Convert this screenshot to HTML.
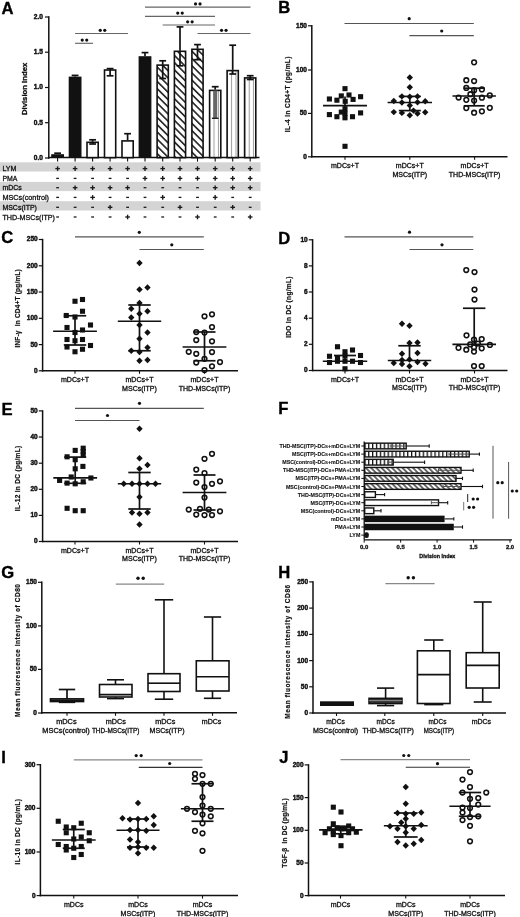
<!DOCTYPE html>
<html><head><meta charset="utf-8"><style>
html,body{margin:0;padding:0;background:#fff;}
svg{display:block;font-family:"Liberation Sans", sans-serif;filter:blur(0.3px);}
text{white-space:pre;}
</style></head><body>
<svg width="520" height="917" viewBox="0 0 520 917">
<defs>
<pattern id="hatch" patternUnits="userSpaceOnUse" width="5.1" height="5.1" patternTransform="rotate(45)">
<rect width="5.1" height="5.1" fill="#fff"/><line x1="0" y1="2.55" x2="5.1" y2="2.55" stroke="#111" stroke-width="1.5"/>
</pattern>
<pattern id="hatchF" patternUnits="userSpaceOnUse" width="3.7" height="3.7" patternTransform="rotate(45)">
<rect width="3.7" height="3.7" fill="#fff"/><line x1="0" y1="1.85" x2="3.7" y2="1.85" stroke="#111" stroke-width="1.2"/>
</pattern>
<pattern id="vstripe" patternUnits="userSpaceOnUse" width="4.4" height="10" x="0.6">
<rect width="4.4" height="10" fill="#fff"/><line x1="2.2" y1="0" x2="2.2" y2="10" stroke="#999" stroke-width="1"/>
</pattern>
<pattern id="checkh" patternUnits="userSpaceOnUse" x="364.2" width="3.9" height="10">
<rect width="3.9" height="10" fill="#fff"/><rect x="0" y="0" width="1.3" height="10" fill="#111"/>
</pattern>
<pattern id="check" patternUnits="userSpaceOnUse" width="4" height="10">
<rect width="4" height="10" fill="#fff"/><line x1="2" y1="0" x2="2" y2="10" stroke="#111" stroke-width="1.1"/>
</pattern>
</defs>
<rect width="520" height="917" fill="#fff"/>
<text x="1.6" y="13.7" font-size="16.6" text-anchor="start" fill="#000" stroke="#000" stroke-width="0.35" font-weight="bold">A</text>
<rect x="0" y="162.3" width="260.5" height="9.2" fill="#d4d4d4"/>
<rect x="0" y="181.9" width="260.5" height="9.2" fill="#d4d4d4"/>
<rect x="0" y="201.2" width="260.5" height="9.3" fill="#d4d4d4"/>
<line x1="48.8" y1="16.3" x2="48.8" y2="158.7" stroke="#111" stroke-width="1.5"/>
<line x1="45" y1="17" x2="48.8" y2="17" stroke="#111" stroke-width="1.2"/>
<text x="43" y="18.9" font-size="6.5" text-anchor="end" fill="#111" stroke="#111" stroke-width="0.42" font-weight="bold" textLength="9.2" lengthAdjust="spacingAndGlyphs">2.0</text>
<line x1="45" y1="52.2" x2="48.8" y2="52.2" stroke="#111" stroke-width="1.2"/>
<text x="43" y="54.1" font-size="6.5" text-anchor="end" fill="#111" stroke="#111" stroke-width="0.42" font-weight="bold" textLength="9.2" lengthAdjust="spacingAndGlyphs">1.5</text>
<line x1="45" y1="87.5" x2="48.8" y2="87.5" stroke="#111" stroke-width="1.2"/>
<text x="43" y="89.4" font-size="6.5" text-anchor="end" fill="#111" stroke="#111" stroke-width="0.42" font-weight="bold" textLength="9.2" lengthAdjust="spacingAndGlyphs">1.0</text>
<line x1="45" y1="122.7" x2="48.8" y2="122.7" stroke="#111" stroke-width="1.2"/>
<text x="43" y="124.6" font-size="6.5" text-anchor="end" fill="#111" stroke="#111" stroke-width="0.42" font-weight="bold" textLength="9.2" lengthAdjust="spacingAndGlyphs">0.5</text>
<line x1="45" y1="158" x2="48.8" y2="158" stroke="#111" stroke-width="1.2"/>
<text x="43" y="159.9" font-size="6.5" text-anchor="end" fill="#111" stroke="#111" stroke-width="0.42" font-weight="bold" textLength="9.2" lengthAdjust="spacingAndGlyphs">0.0</text>
<text x="27" y="88.9" font-size="7.2" text-anchor="middle" fill="#111" stroke="#111" stroke-width="0.3" font-weight="bold" textLength="52.3" lengthAdjust="spacingAndGlyphs" transform="rotate(-90 27 88.9)">Division Index</text>
<line x1="48.1" y1="157.6" x2="259.5" y2="157.6" stroke="#111" stroke-width="1.5"/>
<line x1="57.6" y1="157.6" x2="57.6" y2="161.6" stroke="#111" stroke-width="1.1"/>
<line x1="75.1" y1="157.6" x2="75.1" y2="161.6" stroke="#111" stroke-width="1.1"/>
<line x1="92.6" y1="157.6" x2="92.6" y2="161.6" stroke="#111" stroke-width="1.1"/>
<line x1="110.1" y1="157.6" x2="110.1" y2="161.6" stroke="#111" stroke-width="1.1"/>
<line x1="127.6" y1="157.6" x2="127.6" y2="161.6" stroke="#111" stroke-width="1.1"/>
<line x1="145" y1="157.6" x2="145" y2="161.6" stroke="#111" stroke-width="1.1"/>
<line x1="162.7" y1="157.6" x2="162.7" y2="161.6" stroke="#111" stroke-width="1.1"/>
<line x1="180" y1="157.6" x2="180" y2="161.6" stroke="#111" stroke-width="1.1"/>
<line x1="197.5" y1="157.6" x2="197.5" y2="161.6" stroke="#111" stroke-width="1.1"/>
<line x1="215.2" y1="157.6" x2="215.2" y2="161.6" stroke="#111" stroke-width="1.1"/>
<line x1="232.7" y1="157.6" x2="232.7" y2="161.6" stroke="#111" stroke-width="1.1"/>
<line x1="250.2" y1="157.6" x2="250.2" y2="161.6" stroke="#111" stroke-width="1.1"/>
<line x1="57.6" y1="153.2" x2="57.6" y2="154.2" stroke="#111" stroke-width="1.7"/>
<line x1="54.2" y1="153.2" x2="61" y2="153.2" stroke="#111" stroke-width="1.7"/>
<rect x="51.2" y="154.2" width="12.8" height="3.4" fill="#111"/>
<line x1="75.1" y1="75.4" x2="75.1" y2="76.6" stroke="#111" stroke-width="1.7"/>
<line x1="71.7" y1="75.4" x2="78.5" y2="75.4" stroke="#111" stroke-width="1.7"/>
<rect x="68.7" y="76.6" width="12.8" height="81" fill="#111"/>
<line x1="92.6" y1="139.8" x2="92.6" y2="141.5" stroke="#111" stroke-width="1.7"/>
<line x1="89.2" y1="139.8" x2="96" y2="139.8" stroke="#111" stroke-width="1.7"/>
<rect x="87" y="142.3" width="11.2" height="15.3" fill="#fff" stroke="#111" stroke-width="1.6"/>
<line x1="92.6" y1="141.5" x2="92.6" y2="144" stroke="#111" stroke-width="1.7"/>
<line x1="89.2" y1="144" x2="96" y2="144" stroke="#111" stroke-width="1.7"/>
<line x1="110.1" y1="68.6" x2="110.1" y2="69.2" stroke="#111" stroke-width="1.7"/>
<line x1="106.7" y1="68.6" x2="113.5" y2="68.6" stroke="#111" stroke-width="1.7"/>
<rect x="104.5" y="70" width="11.2" height="87.6" fill="#fff" stroke="#111" stroke-width="1.6"/>
<line x1="110.1" y1="69.2" x2="110.1" y2="75.8" stroke="#111" stroke-width="1.7"/>
<line x1="106.7" y1="75.8" x2="113.5" y2="75.8" stroke="#111" stroke-width="1.7"/>
<line x1="127.6" y1="133.7" x2="127.6" y2="140.1" stroke="#111" stroke-width="1.7"/>
<line x1="124.2" y1="133.7" x2="131" y2="133.7" stroke="#111" stroke-width="1.7"/>
<rect x="122" y="140.9" width="11.2" height="16.7" fill="#fff" stroke="#111" stroke-width="1.6"/>
<line x1="145" y1="52.6" x2="145" y2="56.2" stroke="#111" stroke-width="1.7"/>
<line x1="141.6" y1="52.6" x2="148.4" y2="52.6" stroke="#111" stroke-width="1.7"/>
<rect x="138.6" y="56.2" width="12.8" height="101.4" fill="#111"/>
<line x1="162.7" y1="60.8" x2="162.7" y2="64.3" stroke="#111" stroke-width="1.7"/>
<line x1="159.3" y1="60.8" x2="166.1" y2="60.8" stroke="#111" stroke-width="1.7"/>
<rect x="157.1" y="65.1" width="11.2" height="92.5" fill="url(#hatch)" stroke="#111" stroke-width="1.6"/>
<line x1="162.7" y1="64.3" x2="162.7" y2="78.5" stroke="#111" stroke-width="1.7"/>
<line x1="159.3" y1="78.5" x2="166.1" y2="78.5" stroke="#111" stroke-width="1.7"/>
<line x1="180" y1="26.9" x2="180" y2="50.5" stroke="#111" stroke-width="1.7"/>
<line x1="176.6" y1="26.9" x2="183.4" y2="26.9" stroke="#111" stroke-width="1.7"/>
<rect x="174.4" y="51.3" width="11.2" height="106.3" fill="url(#hatch)" stroke="#111" stroke-width="1.6"/>
<line x1="180" y1="50.5" x2="180" y2="65.8" stroke="#111" stroke-width="1.7"/>
<line x1="176.6" y1="65.8" x2="183.4" y2="65.8" stroke="#111" stroke-width="1.7"/>
<line x1="197.5" y1="44.6" x2="197.5" y2="48.5" stroke="#111" stroke-width="1.7"/>
<line x1="194.1" y1="44.6" x2="200.9" y2="44.6" stroke="#111" stroke-width="1.7"/>
<rect x="191.9" y="49.3" width="11.2" height="108.3" fill="url(#hatch)" stroke="#111" stroke-width="1.6"/>
<line x1="197.5" y1="48.5" x2="197.5" y2="59.7" stroke="#111" stroke-width="1.7"/>
<line x1="194.1" y1="59.7" x2="200.9" y2="59.7" stroke="#111" stroke-width="1.7"/>
<line x1="215.2" y1="86.7" x2="215.2" y2="89.6" stroke="#111" stroke-width="1.7"/>
<line x1="211.8" y1="86.7" x2="218.6" y2="86.7" stroke="#111" stroke-width="1.7"/>
<rect x="209.6" y="90.4" width="11.2" height="67.2" fill="url(#vstripe)" stroke="#111" stroke-width="1.6"/>
<rect x="213.2" y="90.6" width="4" height="27.7" fill="#666"/>
<line x1="211.9" y1="118.3" x2="218.5" y2="118.3" stroke="#222" stroke-width="1.4"/>
<line x1="232.7" y1="45.2" x2="232.7" y2="69.8" stroke="#111" stroke-width="1.7"/>
<line x1="229.3" y1="45.2" x2="236.1" y2="45.2" stroke="#111" stroke-width="1.7"/>
<rect x="227.1" y="70.6" width="11.2" height="87" fill="url(#vstripe)" stroke="#111" stroke-width="1.6"/>
<line x1="232.7" y1="69.8" x2="232.7" y2="74" stroke="#111" stroke-width="1.7"/>
<line x1="229.3" y1="74" x2="236.1" y2="74" stroke="#111" stroke-width="1.7"/>
<line x1="250.2" y1="75.7" x2="250.2" y2="77.1" stroke="#111" stroke-width="1.7"/>
<line x1="246.8" y1="75.7" x2="253.6" y2="75.7" stroke="#111" stroke-width="1.7"/>
<rect x="244.6" y="77.9" width="11.2" height="79.7" fill="url(#vstripe)" stroke="#111" stroke-width="1.6"/>
<line x1="250.2" y1="77.1" x2="250.2" y2="79.5" stroke="#111" stroke-width="1.7"/>
<line x1="246.8" y1="79.5" x2="253.6" y2="79.5" stroke="#111" stroke-width="1.7"/>
<line x1="145" y1="7.1" x2="250.5" y2="7.1" stroke="#666" stroke-width="1.15"/>
<circle cx="195.55" cy="3.9" r="1.6" fill="#111"/>
<circle cx="200.05" cy="3.9" r="1.6" fill="#111"/>
<line x1="145" y1="16.3" x2="215" y2="16.3" stroke="#666" stroke-width="1.15"/>
<circle cx="177.75" cy="13.1" r="1.6" fill="#111"/>
<circle cx="182.25" cy="13.1" r="1.6" fill="#111"/>
<line x1="162.7" y1="25" x2="215" y2="25" stroke="#666" stroke-width="1.15"/>
<circle cx="187.65" cy="21.8" r="1.6" fill="#111"/>
<circle cx="192.15" cy="21.8" r="1.6" fill="#111"/>
<line x1="197.5" y1="33.5" x2="250.5" y2="33.5" stroke="#666" stroke-width="1.15"/>
<circle cx="221.55" cy="30.3" r="1.6" fill="#111"/>
<circle cx="226.05" cy="30.3" r="1.6" fill="#111"/>
<line x1="75.1" y1="33.5" x2="128" y2="33.5" stroke="#666" stroke-width="1.15"/>
<circle cx="100.25" cy="30.3" r="1.6" fill="#111"/>
<circle cx="104.75" cy="30.3" r="1.6" fill="#111"/>
<line x1="75.1" y1="43.3" x2="93" y2="43.3" stroke="#666" stroke-width="1.15"/>
<circle cx="82.25" cy="40.1" r="1.6" fill="#111"/>
<circle cx="86.75" cy="40.1" r="1.6" fill="#111"/>
<text x="2.4" y="171.2" font-size="7" text-anchor="start" fill="#111" stroke="#111" stroke-width="0.28" textLength="14" lengthAdjust="spacingAndGlyphs">LYM</text>
<text x="2.4" y="181" font-size="7" text-anchor="start" fill="#111" stroke="#111" stroke-width="0.28" textLength="15" lengthAdjust="spacingAndGlyphs">PMA</text>
<text x="2.4" y="190.3" font-size="7" text-anchor="start" fill="#111" stroke="#111" stroke-width="0.28" textLength="19.5" lengthAdjust="spacingAndGlyphs">mDCs</text>
<text x="2.4" y="200" font-size="7" text-anchor="start" fill="#111" stroke="#111" stroke-width="0.28" textLength="46.6" lengthAdjust="spacingAndGlyphs">MSCs(control)</text>
<text x="2.4" y="209.9" font-size="7" text-anchor="start" fill="#111" stroke="#111" stroke-width="0.28" textLength="34.5" lengthAdjust="spacingAndGlyphs">MSCs(ITP)</text>
<text x="2.4" y="219.6" font-size="7" text-anchor="start" fill="#111" stroke="#111" stroke-width="0.28" textLength="52.6" lengthAdjust="spacingAndGlyphs">THD-MSCs(ITP)</text>
<line x1="55.3" y1="168.6" x2="59.9" y2="168.6" stroke="#1a1a1a" stroke-width="1.35"/>
<line x1="57.6" y1="166.3" x2="57.6" y2="170.9" stroke="#1a1a1a" stroke-width="1.35"/>
<line x1="72.8" y1="168.6" x2="77.4" y2="168.6" stroke="#1a1a1a" stroke-width="1.35"/>
<line x1="75.1" y1="166.3" x2="75.1" y2="170.9" stroke="#1a1a1a" stroke-width="1.35"/>
<line x1="90.3" y1="168.6" x2="94.9" y2="168.6" stroke="#1a1a1a" stroke-width="1.35"/>
<line x1="92.6" y1="166.3" x2="92.6" y2="170.9" stroke="#1a1a1a" stroke-width="1.35"/>
<line x1="107.8" y1="168.6" x2="112.4" y2="168.6" stroke="#1a1a1a" stroke-width="1.35"/>
<line x1="110.1" y1="166.3" x2="110.1" y2="170.9" stroke="#1a1a1a" stroke-width="1.35"/>
<line x1="125.3" y1="168.6" x2="129.9" y2="168.6" stroke="#1a1a1a" stroke-width="1.35"/>
<line x1="127.6" y1="166.3" x2="127.6" y2="170.9" stroke="#1a1a1a" stroke-width="1.35"/>
<line x1="142.7" y1="168.6" x2="147.3" y2="168.6" stroke="#1a1a1a" stroke-width="1.35"/>
<line x1="145" y1="166.3" x2="145" y2="170.9" stroke="#1a1a1a" stroke-width="1.35"/>
<line x1="160.4" y1="168.6" x2="165" y2="168.6" stroke="#1a1a1a" stroke-width="1.35"/>
<line x1="162.7" y1="166.3" x2="162.7" y2="170.9" stroke="#1a1a1a" stroke-width="1.35"/>
<line x1="177.7" y1="168.6" x2="182.3" y2="168.6" stroke="#1a1a1a" stroke-width="1.35"/>
<line x1="180" y1="166.3" x2="180" y2="170.9" stroke="#1a1a1a" stroke-width="1.35"/>
<line x1="195.2" y1="168.6" x2="199.8" y2="168.6" stroke="#1a1a1a" stroke-width="1.35"/>
<line x1="197.5" y1="166.3" x2="197.5" y2="170.9" stroke="#1a1a1a" stroke-width="1.35"/>
<line x1="212.9" y1="168.6" x2="217.5" y2="168.6" stroke="#1a1a1a" stroke-width="1.35"/>
<line x1="215.2" y1="166.3" x2="215.2" y2="170.9" stroke="#1a1a1a" stroke-width="1.35"/>
<line x1="230.4" y1="168.6" x2="235" y2="168.6" stroke="#1a1a1a" stroke-width="1.35"/>
<line x1="232.7" y1="166.3" x2="232.7" y2="170.9" stroke="#1a1a1a" stroke-width="1.35"/>
<line x1="247.9" y1="168.6" x2="252.5" y2="168.6" stroke="#1a1a1a" stroke-width="1.35"/>
<line x1="250.2" y1="166.3" x2="250.2" y2="170.9" stroke="#1a1a1a" stroke-width="1.35"/>
<line x1="56.2" y1="178.4" x2="59" y2="178.4" stroke="#1a1a1a" stroke-width="1.3"/>
<line x1="73.7" y1="178.4" x2="76.5" y2="178.4" stroke="#1a1a1a" stroke-width="1.3"/>
<line x1="91.2" y1="178.4" x2="94" y2="178.4" stroke="#1a1a1a" stroke-width="1.3"/>
<line x1="108.7" y1="178.4" x2="111.5" y2="178.4" stroke="#1a1a1a" stroke-width="1.3"/>
<line x1="126.2" y1="178.4" x2="129" y2="178.4" stroke="#1a1a1a" stroke-width="1.3"/>
<line x1="142.7" y1="178.4" x2="147.3" y2="178.4" stroke="#1a1a1a" stroke-width="1.35"/>
<line x1="145" y1="176.1" x2="145" y2="180.7" stroke="#1a1a1a" stroke-width="1.35"/>
<line x1="160.4" y1="178.4" x2="165" y2="178.4" stroke="#1a1a1a" stroke-width="1.35"/>
<line x1="162.7" y1="176.1" x2="162.7" y2="180.7" stroke="#1a1a1a" stroke-width="1.35"/>
<line x1="177.7" y1="178.4" x2="182.3" y2="178.4" stroke="#1a1a1a" stroke-width="1.35"/>
<line x1="180" y1="176.1" x2="180" y2="180.7" stroke="#1a1a1a" stroke-width="1.35"/>
<line x1="195.2" y1="178.4" x2="199.8" y2="178.4" stroke="#1a1a1a" stroke-width="1.35"/>
<line x1="197.5" y1="176.1" x2="197.5" y2="180.7" stroke="#1a1a1a" stroke-width="1.35"/>
<line x1="212.9" y1="178.4" x2="217.5" y2="178.4" stroke="#1a1a1a" stroke-width="1.35"/>
<line x1="215.2" y1="176.1" x2="215.2" y2="180.7" stroke="#1a1a1a" stroke-width="1.35"/>
<line x1="230.4" y1="178.4" x2="235" y2="178.4" stroke="#1a1a1a" stroke-width="1.35"/>
<line x1="232.7" y1="176.1" x2="232.7" y2="180.7" stroke="#1a1a1a" stroke-width="1.35"/>
<line x1="247.9" y1="178.4" x2="252.5" y2="178.4" stroke="#1a1a1a" stroke-width="1.35"/>
<line x1="250.2" y1="176.1" x2="250.2" y2="180.7" stroke="#1a1a1a" stroke-width="1.35"/>
<line x1="56.2" y1="187.7" x2="59" y2="187.7" stroke="#1a1a1a" stroke-width="1.3"/>
<line x1="72.8" y1="187.7" x2="77.4" y2="187.7" stroke="#1a1a1a" stroke-width="1.35"/>
<line x1="75.1" y1="185.4" x2="75.1" y2="190" stroke="#1a1a1a" stroke-width="1.35"/>
<line x1="90.3" y1="187.7" x2="94.9" y2="187.7" stroke="#1a1a1a" stroke-width="1.35"/>
<line x1="92.6" y1="185.4" x2="92.6" y2="190" stroke="#1a1a1a" stroke-width="1.35"/>
<line x1="107.8" y1="187.7" x2="112.4" y2="187.7" stroke="#1a1a1a" stroke-width="1.35"/>
<line x1="110.1" y1="185.4" x2="110.1" y2="190" stroke="#1a1a1a" stroke-width="1.35"/>
<line x1="125.3" y1="187.7" x2="129.9" y2="187.7" stroke="#1a1a1a" stroke-width="1.35"/>
<line x1="127.6" y1="185.4" x2="127.6" y2="190" stroke="#1a1a1a" stroke-width="1.35"/>
<line x1="143.6" y1="187.7" x2="146.4" y2="187.7" stroke="#1a1a1a" stroke-width="1.3"/>
<line x1="161.3" y1="187.7" x2="164.1" y2="187.7" stroke="#1a1a1a" stroke-width="1.3"/>
<line x1="178.6" y1="187.7" x2="181.4" y2="187.7" stroke="#1a1a1a" stroke-width="1.3"/>
<line x1="196.1" y1="187.7" x2="198.9" y2="187.7" stroke="#1a1a1a" stroke-width="1.3"/>
<line x1="212.9" y1="187.7" x2="217.5" y2="187.7" stroke="#1a1a1a" stroke-width="1.35"/>
<line x1="215.2" y1="185.4" x2="215.2" y2="190" stroke="#1a1a1a" stroke-width="1.35"/>
<line x1="230.4" y1="187.7" x2="235" y2="187.7" stroke="#1a1a1a" stroke-width="1.35"/>
<line x1="232.7" y1="185.4" x2="232.7" y2="190" stroke="#1a1a1a" stroke-width="1.35"/>
<line x1="247.9" y1="187.7" x2="252.5" y2="187.7" stroke="#1a1a1a" stroke-width="1.35"/>
<line x1="250.2" y1="185.4" x2="250.2" y2="190" stroke="#1a1a1a" stroke-width="1.35"/>
<line x1="56.2" y1="197.4" x2="59" y2="197.4" stroke="#1a1a1a" stroke-width="1.3"/>
<line x1="73.7" y1="197.4" x2="76.5" y2="197.4" stroke="#1a1a1a" stroke-width="1.3"/>
<line x1="90.3" y1="197.4" x2="94.9" y2="197.4" stroke="#1a1a1a" stroke-width="1.35"/>
<line x1="92.6" y1="195.1" x2="92.6" y2="199.7" stroke="#1a1a1a" stroke-width="1.35"/>
<line x1="108.7" y1="197.4" x2="111.5" y2="197.4" stroke="#1a1a1a" stroke-width="1.3"/>
<line x1="126.2" y1="197.4" x2="129" y2="197.4" stroke="#1a1a1a" stroke-width="1.3"/>
<line x1="143.6" y1="197.4" x2="146.4" y2="197.4" stroke="#1a1a1a" stroke-width="1.3"/>
<line x1="160.4" y1="197.4" x2="165" y2="197.4" stroke="#1a1a1a" stroke-width="1.35"/>
<line x1="162.7" y1="195.1" x2="162.7" y2="199.7" stroke="#1a1a1a" stroke-width="1.35"/>
<line x1="178.6" y1="197.4" x2="181.4" y2="197.4" stroke="#1a1a1a" stroke-width="1.3"/>
<line x1="196.1" y1="197.4" x2="198.9" y2="197.4" stroke="#1a1a1a" stroke-width="1.3"/>
<line x1="212.9" y1="197.4" x2="217.5" y2="197.4" stroke="#1a1a1a" stroke-width="1.35"/>
<line x1="215.2" y1="195.1" x2="215.2" y2="199.7" stroke="#1a1a1a" stroke-width="1.35"/>
<line x1="231.3" y1="197.4" x2="234.1" y2="197.4" stroke="#1a1a1a" stroke-width="1.3"/>
<line x1="248.8" y1="197.4" x2="251.6" y2="197.4" stroke="#1a1a1a" stroke-width="1.3"/>
<line x1="56.2" y1="207.3" x2="59" y2="207.3" stroke="#1a1a1a" stroke-width="1.3"/>
<line x1="73.7" y1="207.3" x2="76.5" y2="207.3" stroke="#1a1a1a" stroke-width="1.3"/>
<line x1="91.2" y1="207.3" x2="94" y2="207.3" stroke="#1a1a1a" stroke-width="1.3"/>
<line x1="107.8" y1="207.3" x2="112.4" y2="207.3" stroke="#1a1a1a" stroke-width="1.35"/>
<line x1="110.1" y1="205" x2="110.1" y2="209.6" stroke="#1a1a1a" stroke-width="1.35"/>
<line x1="126.2" y1="207.3" x2="129" y2="207.3" stroke="#1a1a1a" stroke-width="1.3"/>
<line x1="143.6" y1="207.3" x2="146.4" y2="207.3" stroke="#1a1a1a" stroke-width="1.3"/>
<line x1="161.3" y1="207.3" x2="164.1" y2="207.3" stroke="#1a1a1a" stroke-width="1.3"/>
<line x1="177.7" y1="207.3" x2="182.3" y2="207.3" stroke="#1a1a1a" stroke-width="1.35"/>
<line x1="180" y1="205" x2="180" y2="209.6" stroke="#1a1a1a" stroke-width="1.35"/>
<line x1="196.1" y1="207.3" x2="198.9" y2="207.3" stroke="#1a1a1a" stroke-width="1.3"/>
<line x1="213.8" y1="207.3" x2="216.6" y2="207.3" stroke="#1a1a1a" stroke-width="1.3"/>
<line x1="230.4" y1="207.3" x2="235" y2="207.3" stroke="#1a1a1a" stroke-width="1.35"/>
<line x1="232.7" y1="205" x2="232.7" y2="209.6" stroke="#1a1a1a" stroke-width="1.35"/>
<line x1="248.8" y1="207.3" x2="251.6" y2="207.3" stroke="#1a1a1a" stroke-width="1.3"/>
<line x1="56.2" y1="217" x2="59" y2="217" stroke="#1a1a1a" stroke-width="1.3"/>
<line x1="73.7" y1="217" x2="76.5" y2="217" stroke="#1a1a1a" stroke-width="1.3"/>
<line x1="91.2" y1="217" x2="94" y2="217" stroke="#1a1a1a" stroke-width="1.3"/>
<line x1="108.7" y1="217" x2="111.5" y2="217" stroke="#1a1a1a" stroke-width="1.3"/>
<line x1="125.3" y1="217" x2="129.9" y2="217" stroke="#1a1a1a" stroke-width="1.35"/>
<line x1="127.6" y1="214.7" x2="127.6" y2="219.3" stroke="#1a1a1a" stroke-width="1.35"/>
<line x1="143.6" y1="217" x2="146.4" y2="217" stroke="#1a1a1a" stroke-width="1.3"/>
<line x1="161.3" y1="217" x2="164.1" y2="217" stroke="#1a1a1a" stroke-width="1.3"/>
<line x1="178.6" y1="217" x2="181.4" y2="217" stroke="#1a1a1a" stroke-width="1.3"/>
<line x1="195.2" y1="217" x2="199.8" y2="217" stroke="#1a1a1a" stroke-width="1.35"/>
<line x1="197.5" y1="214.7" x2="197.5" y2="219.3" stroke="#1a1a1a" stroke-width="1.35"/>
<line x1="213.8" y1="217" x2="216.6" y2="217" stroke="#1a1a1a" stroke-width="1.3"/>
<line x1="231.3" y1="217" x2="234.1" y2="217" stroke="#1a1a1a" stroke-width="1.3"/>
<line x1="247.9" y1="217" x2="252.5" y2="217" stroke="#1a1a1a" stroke-width="1.35"/>
<line x1="250.2" y1="214.7" x2="250.2" y2="219.3" stroke="#1a1a1a" stroke-width="1.35"/>
<text x="278.2" y="13.1" font-size="16.6" text-anchor="start" fill="#000" stroke="#000" stroke-width="0.35" font-weight="bold">B</text>
<line x1="311.8" y1="25.1" x2="311.8" y2="157.5" stroke="#111" stroke-width="1.5"/>
<line x1="308" y1="25.8" x2="311.8" y2="25.8" stroke="#111" stroke-width="1.2"/>
<text x="306.9" y="27.7" font-size="6.5" text-anchor="end" fill="#111" stroke="#111" stroke-width="0.42" font-weight="bold">150</text>
<line x1="308" y1="70" x2="311.8" y2="70" stroke="#111" stroke-width="1.2"/>
<text x="306.9" y="71.9" font-size="6.5" text-anchor="end" fill="#111" stroke="#111" stroke-width="0.42" font-weight="bold">100</text>
<line x1="308" y1="113.4" x2="311.8" y2="113.4" stroke="#111" stroke-width="1.2"/>
<text x="306.9" y="115.3" font-size="6.5" text-anchor="end" fill="#111" stroke="#111" stroke-width="0.42" font-weight="bold">50</text>
<line x1="308" y1="156.8" x2="311.8" y2="156.8" stroke="#111" stroke-width="1.2"/>
<text x="306.9" y="158.7" font-size="6.5" text-anchor="end" fill="#111" stroke="#111" stroke-width="0.42" font-weight="bold">0</text>
<text x="290.5" y="94.4" font-size="6.5" text-anchor="middle" fill="#111" stroke="#111" stroke-width="0.2" font-weight="bold" textLength="75.6" lengthAdjust="spacing" transform="rotate(-90 290.5 94.4)">IL-4 in CD4+T (pg/mL)</text>
<line x1="311.1" y1="156.8" x2="507.5" y2="156.8" stroke="#111" stroke-width="1.5"/>
<line x1="345" y1="156.8" x2="345" y2="159.8" stroke="#111" stroke-width="1.1"/>
<line x1="409.8" y1="156.8" x2="409.8" y2="159.8" stroke="#111" stroke-width="1.1"/>
<line x1="474.6" y1="156.8" x2="474.6" y2="159.8" stroke="#111" stroke-width="1.1"/>
<text x="345" y="168.1" font-size="6.3" text-anchor="middle" fill="#111" stroke="#111" stroke-width="0.28" textLength="28" lengthAdjust="spacingAndGlyphs">mDCs+T</text>
<text x="409.8" y="168.1" font-size="6.3" text-anchor="middle" fill="#111" stroke="#111" stroke-width="0.28" textLength="28" lengthAdjust="spacingAndGlyphs">mDCs+T</text>
<text x="409.8" y="176.7" font-size="6.3" text-anchor="middle" fill="#111" stroke="#111" stroke-width="0.28" textLength="34.85" lengthAdjust="spacingAndGlyphs">MSCs(ITP)</text>
<text x="474.6" y="168.1" font-size="6.3" text-anchor="middle" fill="#111" stroke="#111" stroke-width="0.28" textLength="28" lengthAdjust="spacingAndGlyphs">mDCs+T</text>
<text x="474.6" y="176.7" font-size="6.3" text-anchor="middle" fill="#111" stroke="#111" stroke-width="0.28" textLength="51.69" lengthAdjust="spacingAndGlyphs">THD-MSCs(ITP)</text>
<line x1="344.5" y1="23.5" x2="473.8" y2="23.5" stroke="#555" stroke-width="1.15"/>
<circle cx="409.2" cy="18.65" r="1.6" fill="#111"/>
<line x1="409.4" y1="35.6" x2="473.8" y2="35.6" stroke="#555" stroke-width="1.15"/>
<circle cx="441.7" cy="31" r="1.6" fill="#111"/>
<rect x="342.45" y="86.1" width="5.1" height="5.1" fill="#111"/>
<rect x="326.85" y="96.45" width="5.1" height="5.1" fill="#111"/>
<rect x="334.35" y="97.65" width="5.1" height="5.1" fill="#111"/>
<rect x="338.75" y="93.35" width="5.1" height="5.1" fill="#111"/>
<rect x="346.45" y="92.45" width="5.1" height="5.1" fill="#111"/>
<rect x="342.65" y="98.75" width="5.1" height="5.1" fill="#111"/>
<rect x="350.55" y="96.85" width="5.1" height="5.1" fill="#111"/>
<rect x="358.05" y="94.15" width="5.1" height="5.1" fill="#111"/>
<rect x="342.45" y="106.25" width="5.1" height="5.1" fill="#111"/>
<rect x="326.85" y="112.05" width="5.1" height="5.1" fill="#111"/>
<rect x="338.75" y="109.55" width="5.1" height="5.1" fill="#111"/>
<rect x="334.35" y="114.15" width="5.1" height="5.1" fill="#111"/>
<rect x="342.45" y="115.25" width="5.1" height="5.1" fill="#111"/>
<rect x="349.95" y="114.15" width="5.1" height="5.1" fill="#111"/>
<rect x="358.05" y="110.35" width="5.1" height="5.1" fill="#111"/>
<rect x="342.45" y="110.95" width="5.1" height="5.1" fill="#111"/>
<rect x="342.45" y="143.75" width="5.1" height="5.1" fill="#111"/>
<line x1="323" y1="105.6" x2="367" y2="105.6" stroke="#111" stroke-width="1.7"/>
<line x1="345" y1="96.5" x2="345" y2="114.5" stroke="#111" stroke-width="1.7"/>
<polygon points="409.8,74.3 413,77.5 409.8,80.7 406.6,77.5" fill="#111"/>
<polygon points="409.8,84.1 413,87.3 409.8,90.5 406.6,87.3" fill="#111"/>
<polygon points="401.9,93.2 405.1,96.4 401.9,99.6 398.7,96.4" fill="#111"/>
<polygon points="409.8,93.5 413,96.7 409.8,99.9 406.6,96.7" fill="#111"/>
<polygon points="417.5,93.2 420.7,96.4 417.5,99.6 414.3,96.4" fill="#111"/>
<polygon points="393.8,97.8 397,101 393.8,104.2 390.6,101" fill="#111"/>
<polygon points="401.9,99.3 405.1,102.5 401.9,105.7 398.7,102.5" fill="#111"/>
<polygon points="417.5,99 420.7,102.2 417.5,105.4 414.3,102.2" fill="#111"/>
<polygon points="425.2,98.1 428.4,101.3 425.2,104.5 422,101.3" fill="#111"/>
<polygon points="409.8,102.2 413,105.4 409.8,108.6 406.6,105.4" fill="#111"/>
<polygon points="393.8,108.9 397,112.1 393.8,115.3 390.6,112.1" fill="#111"/>
<polygon points="401.9,109.7 405.1,112.9 401.9,116.1 398.7,112.9" fill="#111"/>
<polygon points="409.8,112 413,115.2 409.8,118.4 406.6,115.2" fill="#111"/>
<polygon points="413.5,107.4 416.7,110.6 413.5,113.8 410.3,110.6" fill="#111"/>
<polygon points="417.5,110.3 420.7,113.5 417.5,116.7 414.3,113.5" fill="#111"/>
<polygon points="425.2,109.1 428.4,112.3 425.2,115.5 422,112.3" fill="#111"/>
<line x1="387.6" y1="102.5" x2="432" y2="102.5" stroke="#111" stroke-width="1.7"/>
<line x1="409.8" y1="96.4" x2="409.8" y2="110.6" stroke="#111" stroke-width="1.7"/>
<line x1="398.8" y1="96.4" x2="420.8" y2="96.4" stroke="#111" stroke-width="1.7"/>
<line x1="398.8" y1="110.6" x2="420.8" y2="110.6" stroke="#111" stroke-width="1.7"/>
<circle cx="474.1" cy="62.3" r="2.35" fill="none" stroke="#111" stroke-width="1.55"/>
<circle cx="466.3" cy="80.2" r="2.35" fill="none" stroke="#111" stroke-width="1.55"/>
<circle cx="474.1" cy="81" r="2.35" fill="none" stroke="#111" stroke-width="1.55"/>
<circle cx="466.3" cy="87.9" r="2.35" fill="none" stroke="#111" stroke-width="1.55"/>
<circle cx="474.1" cy="90.2" r="2.35" fill="none" stroke="#111" stroke-width="1.55"/>
<circle cx="481.9" cy="89.4" r="2.35" fill="none" stroke="#111" stroke-width="1.55"/>
<circle cx="470.4" cy="94.2" r="2.35" fill="none" stroke="#111" stroke-width="1.55"/>
<circle cx="458.6" cy="97.5" r="2.35" fill="none" stroke="#111" stroke-width="1.55"/>
<circle cx="466.3" cy="99.8" r="2.35" fill="none" stroke="#111" stroke-width="1.55"/>
<circle cx="474.1" cy="100.6" r="2.35" fill="none" stroke="#111" stroke-width="1.55"/>
<circle cx="481.9" cy="97.7" r="2.35" fill="none" stroke="#111" stroke-width="1.55"/>
<circle cx="489.8" cy="95.4" r="2.35" fill="none" stroke="#111" stroke-width="1.55"/>
<circle cx="466.3" cy="108.1" r="2.35" fill="none" stroke="#111" stroke-width="1.55"/>
<circle cx="474.1" cy="112.7" r="2.35" fill="none" stroke="#111" stroke-width="1.55"/>
<circle cx="481.9" cy="111.3" r="2.35" fill="none" stroke="#111" stroke-width="1.55"/>
<circle cx="489.8" cy="107.8" r="2.35" fill="none" stroke="#111" stroke-width="1.55"/>
<line x1="452.5" y1="96" x2="495.9" y2="96" stroke="#111" stroke-width="1.7"/>
<line x1="474.2" y1="88.2" x2="474.2" y2="105.8" stroke="#111" stroke-width="1.7"/>
<line x1="463.7" y1="88.2" x2="484.7" y2="88.2" stroke="#111" stroke-width="1.7"/>
<line x1="463.7" y1="105.8" x2="484.7" y2="105.8" stroke="#111" stroke-width="1.7"/>
<text x="1.2" y="243.4" font-size="16.6" text-anchor="start" fill="#000" stroke="#000" stroke-width="0.35" font-weight="bold">C</text>
<line x1="42.6" y1="238.8" x2="42.6" y2="371.5" stroke="#111" stroke-width="1.5"/>
<line x1="38.8" y1="239.5" x2="42.6" y2="239.5" stroke="#111" stroke-width="1.2"/>
<text x="37.7" y="241.4" font-size="6.5" text-anchor="end" fill="#111" stroke="#111" stroke-width="0.42" font-weight="bold">250</text>
<line x1="38.8" y1="265.8" x2="42.6" y2="265.8" stroke="#111" stroke-width="1.2"/>
<text x="37.7" y="267.7" font-size="6.5" text-anchor="end" fill="#111" stroke="#111" stroke-width="0.42" font-weight="bold">200</text>
<line x1="38.8" y1="292" x2="42.6" y2="292" stroke="#111" stroke-width="1.2"/>
<text x="37.7" y="293.9" font-size="6.5" text-anchor="end" fill="#111" stroke="#111" stroke-width="0.42" font-weight="bold">150</text>
<line x1="38.8" y1="318.3" x2="42.6" y2="318.3" stroke="#111" stroke-width="1.2"/>
<text x="37.7" y="320.2" font-size="6.5" text-anchor="end" fill="#111" stroke="#111" stroke-width="0.42" font-weight="bold">100</text>
<line x1="38.8" y1="344.6" x2="42.6" y2="344.6" stroke="#111" stroke-width="1.2"/>
<text x="37.7" y="346.5" font-size="6.5" text-anchor="end" fill="#111" stroke="#111" stroke-width="0.42" font-weight="bold">50</text>
<line x1="38.8" y1="370.8" x2="42.6" y2="370.8" stroke="#111" stroke-width="1.2"/>
<text x="37.7" y="372.7" font-size="6.5" text-anchor="end" fill="#111" stroke="#111" stroke-width="0.42" font-weight="bold">0</text>
<text x="20.1" y="308.4" font-size="6.5" text-anchor="middle" fill="#111" stroke="#111" stroke-width="0.2" font-weight="bold" textLength="78.4" lengthAdjust="spacing" transform="rotate(-90 20.1 308.4)">INF-γ  in CD4+T (pg/mL)</text>
<line x1="41.9" y1="370.8" x2="238" y2="370.8" stroke="#111" stroke-width="1.5"/>
<line x1="75" y1="370.8" x2="75" y2="373.8" stroke="#111" stroke-width="1.1"/>
<line x1="139.5" y1="370.8" x2="139.5" y2="373.8" stroke="#111" stroke-width="1.1"/>
<line x1="204.5" y1="370.8" x2="204.5" y2="373.8" stroke="#111" stroke-width="1.1"/>
<text x="75" y="382.1" font-size="6.3" text-anchor="middle" fill="#111" stroke="#111" stroke-width="0.28" textLength="28" lengthAdjust="spacingAndGlyphs">mDCs+T</text>
<text x="139.5" y="382.1" font-size="6.3" text-anchor="middle" fill="#111" stroke="#111" stroke-width="0.28" textLength="28" lengthAdjust="spacingAndGlyphs">mDCs+T</text>
<text x="139.5" y="390.7" font-size="6.3" text-anchor="middle" fill="#111" stroke="#111" stroke-width="0.28" textLength="34.85" lengthAdjust="spacingAndGlyphs">MSCs(ITP)</text>
<text x="204.5" y="382.1" font-size="6.3" text-anchor="middle" fill="#111" stroke="#111" stroke-width="0.28" textLength="28" lengthAdjust="spacingAndGlyphs">mDCs+T</text>
<text x="204.5" y="390.7" font-size="6.3" text-anchor="middle" fill="#111" stroke="#111" stroke-width="0.28" textLength="51.69" lengthAdjust="spacingAndGlyphs">THD-MSCs(ITP)</text>
<line x1="75" y1="236.9" x2="203.8" y2="236.9" stroke="#555" stroke-width="1.15"/>
<circle cx="139.3" cy="232.3" r="1.6" fill="#111"/>
<line x1="139.5" y1="249.5" x2="203.8" y2="249.5" stroke="#555" stroke-width="1.15"/>
<circle cx="171.8" cy="244.8" r="1.6" fill="#111"/>
<rect x="72.45" y="298.7" width="5.1" height="5.1" fill="#111"/>
<rect x="79.95" y="296.95" width="5.1" height="5.1" fill="#111"/>
<rect x="63.7" y="312.95" width="5.1" height="5.1" fill="#111"/>
<rect x="72.45" y="314.45" width="5.1" height="5.1" fill="#111"/>
<rect x="79.95" y="308.7" width="5.1" height="5.1" fill="#111"/>
<rect x="64.45" y="324.95" width="5.1" height="5.1" fill="#111"/>
<rect x="79.95" y="327.45" width="5.1" height="5.1" fill="#111"/>
<rect x="87.95" y="322.45" width="5.1" height="5.1" fill="#111"/>
<rect x="72.45" y="329.95" width="5.1" height="5.1" fill="#111"/>
<rect x="64.45" y="336.95" width="5.1" height="5.1" fill="#111"/>
<rect x="72.45" y="338.2" width="5.1" height="5.1" fill="#111"/>
<rect x="79.95" y="336.95" width="5.1" height="5.1" fill="#111"/>
<rect x="64.45" y="344.45" width="5.1" height="5.1" fill="#111"/>
<rect x="87.95" y="342.95" width="5.1" height="5.1" fill="#111"/>
<rect x="72.45" y="349.2" width="5.1" height="5.1" fill="#111"/>
<rect x="79.95" y="346.7" width="5.1" height="5.1" fill="#111"/>
<line x1="53.1" y1="331.25" x2="96.9" y2="331.25" stroke="#111" stroke-width="1.7"/>
<line x1="75" y1="315.75" x2="75" y2="345" stroke="#111" stroke-width="1.7"/>
<line x1="63.8" y1="315.75" x2="86.2" y2="315.75" stroke="#111" stroke-width="1.7"/>
<line x1="63.8" y1="345" x2="86.2" y2="345" stroke="#111" stroke-width="1.7"/>
<polygon points="139.5,259.8 142.7,263 139.5,266.2 136.3,263" fill="#111"/>
<polygon points="139.5,286.3 142.7,289.5 139.5,292.7 136.3,289.5" fill="#111"/>
<polygon points="147.5,284.3 150.7,287.5 147.5,290.7 144.3,287.5" fill="#111"/>
<polygon points="139.5,299.8 142.7,303 139.5,306.2 136.3,303" fill="#111"/>
<polygon points="131.25,305.55 134.45,308.75 131.25,311.95 128.05,308.75" fill="#111"/>
<polygon points="147.5,308.05 150.7,311.25 147.5,314.45 144.3,311.25" fill="#111"/>
<polygon points="131.25,314.3 134.45,317.5 131.25,320.7 128.05,317.5" fill="#111"/>
<polygon points="139.5,310.55 142.7,313.75 139.5,316.95 136.3,313.75" fill="#111"/>
<polygon points="139.5,321.8 142.7,325 139.5,328.2 136.3,325" fill="#111"/>
<polygon points="147.5,329.3 150.7,332.5 147.5,335.7 144.3,332.5" fill="#111"/>
<polygon points="139.5,335.55 142.7,338.75 139.5,341.95 136.3,338.75" fill="#111"/>
<polygon points="147.5,344.3 150.7,347.5 147.5,350.7 144.3,347.5" fill="#111"/>
<polygon points="131.25,347.55 134.45,350.75 131.25,353.95 128.05,350.75" fill="#111"/>
<polygon points="139.5,348.8 142.7,352 139.5,355.2 136.3,352" fill="#111"/>
<polygon points="139.5,357.55 142.7,360.75 139.5,363.95 136.3,360.75" fill="#111"/>
<polygon points="147.5,356.8 150.7,360 147.5,363.2 144.3,360" fill="#111"/>
<line x1="117.8" y1="321.25" x2="161.2" y2="321.25" stroke="#111" stroke-width="1.7"/>
<line x1="139.5" y1="305" x2="139.5" y2="350.75" stroke="#111" stroke-width="1.7"/>
<line x1="128.3" y1="305" x2="150.7" y2="305" stroke="#111" stroke-width="1.7"/>
<line x1="128.3" y1="350.75" x2="150.7" y2="350.75" stroke="#111" stroke-width="1.7"/>
<circle cx="204.5" cy="316.25" r="2.35" fill="none" stroke="#111" stroke-width="1.55"/>
<circle cx="212" cy="314.25" r="2.35" fill="none" stroke="#111" stroke-width="1.55"/>
<circle cx="212" cy="327" r="2.35" fill="none" stroke="#111" stroke-width="1.55"/>
<circle cx="196.25" cy="332" r="2.35" fill="none" stroke="#111" stroke-width="1.55"/>
<circle cx="204.5" cy="332.5" r="2.35" fill="none" stroke="#111" stroke-width="1.55"/>
<circle cx="196.25" cy="340" r="2.35" fill="none" stroke="#111" stroke-width="1.55"/>
<circle cx="212" cy="341.25" r="2.35" fill="none" stroke="#111" stroke-width="1.55"/>
<circle cx="188.75" cy="351.75" r="2.35" fill="none" stroke="#111" stroke-width="1.55"/>
<circle cx="196.25" cy="353.75" r="2.35" fill="none" stroke="#111" stroke-width="1.55"/>
<circle cx="212" cy="352" r="2.35" fill="none" stroke="#111" stroke-width="1.55"/>
<circle cx="204.5" cy="358.75" r="2.35" fill="none" stroke="#111" stroke-width="1.55"/>
<circle cx="196.25" cy="362.5" r="2.35" fill="none" stroke="#111" stroke-width="1.55"/>
<circle cx="212" cy="366.25" r="2.35" fill="none" stroke="#111" stroke-width="1.55"/>
<circle cx="220" cy="362" r="2.35" fill="none" stroke="#111" stroke-width="1.55"/>
<circle cx="204.5" cy="370" r="2.35" fill="none" stroke="#111" stroke-width="1.55"/>
<line x1="182.6" y1="347" x2="226.4" y2="347" stroke="#111" stroke-width="1.7"/>
<line x1="204.5" y1="332" x2="204.5" y2="360.75" stroke="#111" stroke-width="1.7"/>
<line x1="193.5" y1="332" x2="215.5" y2="332" stroke="#111" stroke-width="1.7"/>
<line x1="193.5" y1="360.75" x2="215.5" y2="360.75" stroke="#111" stroke-width="1.7"/>
<text x="278.2" y="243.6" font-size="16.6" text-anchor="start" fill="#000" stroke="#000" stroke-width="0.35" font-weight="bold">D</text>
<line x1="312.6" y1="239.1" x2="312.6" y2="371.2" stroke="#111" stroke-width="1.5"/>
<line x1="308.8" y1="239.8" x2="312.6" y2="239.8" stroke="#111" stroke-width="1.2"/>
<text x="307.7" y="241.7" font-size="6.5" text-anchor="end" fill="#111" stroke="#111" stroke-width="0.42" font-weight="bold">10</text>
<line x1="308.8" y1="265.9" x2="312.6" y2="265.9" stroke="#111" stroke-width="1.2"/>
<text x="307.7" y="267.8" font-size="6.5" text-anchor="end" fill="#111" stroke="#111" stroke-width="0.42" font-weight="bold">8</text>
<line x1="308.8" y1="292" x2="312.6" y2="292" stroke="#111" stroke-width="1.2"/>
<text x="307.7" y="293.9" font-size="6.5" text-anchor="end" fill="#111" stroke="#111" stroke-width="0.42" font-weight="bold">6</text>
<line x1="308.8" y1="318.2" x2="312.6" y2="318.2" stroke="#111" stroke-width="1.2"/>
<text x="307.7" y="320.1" font-size="6.5" text-anchor="end" fill="#111" stroke="#111" stroke-width="0.42" font-weight="bold">4</text>
<line x1="308.8" y1="344.3" x2="312.6" y2="344.3" stroke="#111" stroke-width="1.2"/>
<text x="307.7" y="346.2" font-size="6.5" text-anchor="end" fill="#111" stroke="#111" stroke-width="0.42" font-weight="bold">2</text>
<line x1="308.8" y1="370.5" x2="312.6" y2="370.5" stroke="#111" stroke-width="1.2"/>
<text x="307.7" y="372.4" font-size="6.5" text-anchor="end" fill="#111" stroke="#111" stroke-width="0.42" font-weight="bold">0</text>
<text x="290.7" y="307.2" font-size="6.5" text-anchor="middle" fill="#111" stroke="#111" stroke-width="0.2" font-weight="bold" textLength="61.3" lengthAdjust="spacing" transform="rotate(-90 290.7 307.2)">IDO in DC (ng/mL)</text>
<line x1="311.9" y1="370.5" x2="507.5" y2="370.5" stroke="#111" stroke-width="1.5"/>
<line x1="345" y1="370.5" x2="345" y2="373.5" stroke="#111" stroke-width="1.1"/>
<line x1="409.5" y1="370.5" x2="409.5" y2="373.5" stroke="#111" stroke-width="1.1"/>
<line x1="474.5" y1="370.5" x2="474.5" y2="373.5" stroke="#111" stroke-width="1.1"/>
<text x="345" y="381.8" font-size="6.3" text-anchor="middle" fill="#111" stroke="#111" stroke-width="0.28" textLength="28" lengthAdjust="spacingAndGlyphs">mDCs+T</text>
<text x="409.5" y="381.8" font-size="6.3" text-anchor="middle" fill="#111" stroke="#111" stroke-width="0.28" textLength="28" lengthAdjust="spacingAndGlyphs">mDCs+T</text>
<text x="409.5" y="390.4" font-size="6.3" text-anchor="middle" fill="#111" stroke="#111" stroke-width="0.28" textLength="34.85" lengthAdjust="spacingAndGlyphs">MSCs(ITP)</text>
<text x="474.5" y="381.8" font-size="6.3" text-anchor="middle" fill="#111" stroke="#111" stroke-width="0.28" textLength="28" lengthAdjust="spacingAndGlyphs">mDCs+T</text>
<text x="474.5" y="390.4" font-size="6.3" text-anchor="middle" fill="#111" stroke="#111" stroke-width="0.28" textLength="51.69" lengthAdjust="spacingAndGlyphs">THD-MSCs(ITP)</text>
<line x1="344.5" y1="236.8" x2="473.3" y2="236.8" stroke="#555" stroke-width="1.15"/>
<circle cx="409.5" cy="232.2" r="1.6" fill="#111"/>
<line x1="409.5" y1="249.5" x2="473.3" y2="249.5" stroke="#555" stroke-width="1.15"/>
<circle cx="442" cy="244.8" r="1.6" fill="#111"/>
<rect x="334.95" y="344.2" width="5.1" height="5.1" fill="#111"/>
<rect x="342.45" y="349.2" width="5.1" height="5.1" fill="#111"/>
<rect x="349.95" y="347.45" width="5.1" height="5.1" fill="#111"/>
<rect x="326.95" y="353.7" width="5.1" height="5.1" fill="#111"/>
<rect x="357.95" y="352.95" width="5.1" height="5.1" fill="#111"/>
<rect x="326.95" y="359.95" width="5.1" height="5.1" fill="#111"/>
<rect x="334.95" y="358.7" width="5.1" height="5.1" fill="#111"/>
<rect x="342.45" y="358.7" width="5.1" height="5.1" fill="#111"/>
<rect x="349.95" y="358.7" width="5.1" height="5.1" fill="#111"/>
<rect x="357.95" y="359.95" width="5.1" height="5.1" fill="#111"/>
<rect x="342.45" y="366.2" width="5.1" height="5.1" fill="#111"/>
<rect x="334.95" y="355.45" width="5.1" height="5.1" fill="#111"/>
<rect x="342.45" y="353.45" width="5.1" height="5.1" fill="#111"/>
<line x1="322.8" y1="361.25" x2="367.2" y2="361.25" stroke="#111" stroke-width="1.7"/>
<line x1="345" y1="355.5" x2="345" y2="361.25" stroke="#111" stroke-width="1.7"/>
<line x1="334" y1="355.5" x2="356" y2="355.5" stroke="#111" stroke-width="1.7"/>
<polygon points="402,320.55 405.2,323.75 402,326.95 398.8,323.75" fill="#111"/>
<polygon points="409.5,322.55 412.7,325.75 409.5,328.95 406.3,325.75" fill="#111"/>
<polygon points="417.5,339.3 420.7,342.5 417.5,345.7 414.3,342.5" fill="#111"/>
<polygon points="409.5,339.8 412.7,343 409.5,346.2 406.3,343" fill="#111"/>
<polygon points="402,350.55 405.2,353.75 402,356.95 398.8,353.75" fill="#111"/>
<polygon points="417.5,349.8 420.7,353 417.5,356.2 414.3,353" fill="#111"/>
<polygon points="393.75,359.8 396.95,363 393.75,366.2 390.55,363" fill="#111"/>
<polygon points="402,356.8 405.2,360 402,363.2 398.8,360" fill="#111"/>
<polygon points="409.5,356.3 412.7,359.5 409.5,362.7 406.3,359.5" fill="#111"/>
<polygon points="417.5,358.8 420.7,362 417.5,365.2 414.3,362" fill="#111"/>
<polygon points="425.5,360.55 428.7,363.75 425.5,366.95 422.3,363.75" fill="#111"/>
<polygon points="409.5,363.05 412.7,366.25 409.5,369.45 406.3,366.25" fill="#111"/>
<polygon points="402,360.8 405.2,364 402,367.2 398.8,364" fill="#111"/>
<line x1="387.8" y1="360.5" x2="431.2" y2="360.5" stroke="#111" stroke-width="1.7"/>
<line x1="409.5" y1="345.75" x2="409.5" y2="360.5" stroke="#111" stroke-width="1.7"/>
<line x1="398.3" y1="345.75" x2="420.7" y2="345.75" stroke="#111" stroke-width="1.7"/>
<circle cx="466.25" cy="270" r="2.35" fill="none" stroke="#111" stroke-width="1.55"/>
<circle cx="474.5" cy="272" r="2.35" fill="none" stroke="#111" stroke-width="1.55"/>
<circle cx="474.5" cy="289.5" r="2.35" fill="none" stroke="#111" stroke-width="1.55"/>
<circle cx="474.5" cy="299.5" r="2.35" fill="none" stroke="#111" stroke-width="1.55"/>
<circle cx="466.5" cy="335.3" r="2.35" fill="none" stroke="#111" stroke-width="1.55"/>
<circle cx="474" cy="339.6" r="2.35" fill="none" stroke="#111" stroke-width="1.55"/>
<circle cx="481.7" cy="339.1" r="2.35" fill="none" stroke="#111" stroke-width="1.55"/>
<circle cx="470.2" cy="344.4" r="2.35" fill="none" stroke="#111" stroke-width="1.55"/>
<circle cx="477.9" cy="343.5" r="2.35" fill="none" stroke="#111" stroke-width="1.55"/>
<circle cx="458.5" cy="347.8" r="2.35" fill="none" stroke="#111" stroke-width="1.55"/>
<circle cx="466.3" cy="349.7" r="2.35" fill="none" stroke="#111" stroke-width="1.55"/>
<circle cx="474" cy="347.3" r="2.35" fill="none" stroke="#111" stroke-width="1.55"/>
<circle cx="481.7" cy="348.3" r="2.35" fill="none" stroke="#111" stroke-width="1.55"/>
<circle cx="489.9" cy="344.9" r="2.35" fill="none" stroke="#111" stroke-width="1.55"/>
<circle cx="474" cy="351.6" r="2.35" fill="none" stroke="#111" stroke-width="1.55"/>
<circle cx="474" cy="366" r="2.35" fill="none" stroke="#111" stroke-width="1.55"/>
<circle cx="481.7" cy="366" r="2.35" fill="none" stroke="#111" stroke-width="1.55"/>
<line x1="452.4" y1="344.4" x2="496" y2="344.4" stroke="#111" stroke-width="1.7"/>
<line x1="474.2" y1="308.25" x2="474.2" y2="344.4" stroke="#111" stroke-width="1.7"/>
<line x1="463" y1="308.25" x2="485.4" y2="308.25" stroke="#111" stroke-width="1.7"/>
<text x="1.6" y="415.1" font-size="16.6" text-anchor="start" fill="#000" stroke="#000" stroke-width="0.35" font-weight="bold">E</text>
<line x1="42.6" y1="410.2" x2="42.6" y2="542.2" stroke="#111" stroke-width="1.5"/>
<line x1="38.8" y1="410.9" x2="42.6" y2="410.9" stroke="#111" stroke-width="1.2"/>
<text x="37.7" y="412.8" font-size="6.5" text-anchor="end" fill="#111" stroke="#111" stroke-width="0.42" font-weight="bold">50</text>
<line x1="38.8" y1="437" x2="42.6" y2="437" stroke="#111" stroke-width="1.2"/>
<text x="37.7" y="438.9" font-size="6.5" text-anchor="end" fill="#111" stroke="#111" stroke-width="0.42" font-weight="bold">40</text>
<line x1="38.8" y1="463.2" x2="42.6" y2="463.2" stroke="#111" stroke-width="1.2"/>
<text x="37.7" y="465.1" font-size="6.5" text-anchor="end" fill="#111" stroke="#111" stroke-width="0.42" font-weight="bold">30</text>
<line x1="38.8" y1="489.3" x2="42.6" y2="489.3" stroke="#111" stroke-width="1.2"/>
<text x="37.7" y="491.2" font-size="6.5" text-anchor="end" fill="#111" stroke="#111" stroke-width="0.42" font-weight="bold">20</text>
<line x1="38.8" y1="515.4" x2="42.6" y2="515.4" stroke="#111" stroke-width="1.2"/>
<text x="37.7" y="517.3" font-size="6.5" text-anchor="end" fill="#111" stroke="#111" stroke-width="0.42" font-weight="bold">10</text>
<line x1="38.8" y1="541.5" x2="42.6" y2="541.5" stroke="#111" stroke-width="1.2"/>
<text x="37.7" y="543.4" font-size="6.5" text-anchor="end" fill="#111" stroke="#111" stroke-width="0.42" font-weight="bold">0</text>
<text x="20.3" y="478.5" font-size="6.5" text-anchor="middle" fill="#111" stroke="#111" stroke-width="0.2" font-weight="bold" textLength="65.3" lengthAdjust="spacing" transform="rotate(-90 20.3 478.5)">IL-12 in DC (pg/mL)</text>
<line x1="41.9" y1="541.5" x2="238" y2="541.5" stroke="#111" stroke-width="1.5"/>
<line x1="75" y1="541.5" x2="75" y2="544.5" stroke="#111" stroke-width="1.1"/>
<line x1="139.5" y1="541.5" x2="139.5" y2="544.5" stroke="#111" stroke-width="1.1"/>
<line x1="204.5" y1="541.5" x2="204.5" y2="544.5" stroke="#111" stroke-width="1.1"/>
<text x="75" y="552.8" font-size="6.3" text-anchor="middle" fill="#111" stroke="#111" stroke-width="0.28" textLength="28" lengthAdjust="spacingAndGlyphs">mDCs+T</text>
<text x="139.5" y="552.8" font-size="6.3" text-anchor="middle" fill="#111" stroke="#111" stroke-width="0.28" textLength="28" lengthAdjust="spacingAndGlyphs">mDCs+T</text>
<text x="139.5" y="561.4" font-size="6.3" text-anchor="middle" fill="#111" stroke="#111" stroke-width="0.28" textLength="34.85" lengthAdjust="spacingAndGlyphs">MSCs(ITP)</text>
<text x="204.5" y="552.8" font-size="6.3" text-anchor="middle" fill="#111" stroke="#111" stroke-width="0.28" textLength="28" lengthAdjust="spacingAndGlyphs">mDCs+T</text>
<text x="204.5" y="561.4" font-size="6.3" text-anchor="middle" fill="#111" stroke="#111" stroke-width="0.28" textLength="51.69" lengthAdjust="spacingAndGlyphs">THD-MSCs(ITP)</text>
<line x1="75" y1="408.3" x2="203.8" y2="408.3" stroke="#555" stroke-width="1.15"/>
<circle cx="139.5" cy="403.3" r="1.6" fill="#111"/>
<line x1="75" y1="420.5" x2="139.5" y2="420.5" stroke="#555" stroke-width="1.15"/>
<circle cx="107.5" cy="415.5" r="1.6" fill="#111"/>
<rect x="72.65" y="447.85" width="5.1" height="5.1" fill="#111"/>
<rect x="80.65" y="445.65" width="5.1" height="5.1" fill="#111"/>
<rect x="80.65" y="448.95" width="5.1" height="5.1" fill="#111"/>
<rect x="80.65" y="452.35" width="5.1" height="5.1" fill="#111"/>
<rect x="64.55" y="454.25" width="5.1" height="5.1" fill="#111"/>
<rect x="72.65" y="457.15" width="5.1" height="5.1" fill="#111"/>
<rect x="80.35" y="463.85" width="5.1" height="5.1" fill="#111"/>
<rect x="72.65" y="466.25" width="5.1" height="5.1" fill="#111"/>
<rect x="68.65" y="474.45" width="5.1" height="5.1" fill="#111"/>
<rect x="57.05" y="477.85" width="5.1" height="5.1" fill="#111"/>
<rect x="64.55" y="480.55" width="5.1" height="5.1" fill="#111"/>
<rect x="72.65" y="481.25" width="5.1" height="5.1" fill="#111"/>
<rect x="80.65" y="479.25" width="5.1" height="5.1" fill="#111"/>
<rect x="88.35" y="475.45" width="5.1" height="5.1" fill="#111"/>
<rect x="64.55" y="505.75" width="5.1" height="5.1" fill="#111"/>
<rect x="72.65" y="508.15" width="5.1" height="5.1" fill="#111"/>
<rect x="80.65" y="508.15" width="5.1" height="5.1" fill="#111"/>
<line x1="53.3" y1="477.8" x2="97.1" y2="477.8" stroke="#111" stroke-width="1.7"/>
<line x1="75.2" y1="457.1" x2="75.2" y2="483.3" stroke="#111" stroke-width="1.7"/>
<line x1="64.2" y1="457.1" x2="86.2" y2="457.1" stroke="#111" stroke-width="1.7"/>
<line x1="64.2" y1="483.3" x2="86.2" y2="483.3" stroke="#111" stroke-width="1.7"/>
<polygon points="139.5,425.55 142.7,428.75 139.5,431.95 136.3,428.75" fill="#111"/>
<polygon points="139.5,455.05 142.7,458.25 139.5,461.45 136.3,458.25" fill="#111"/>
<polygon points="147.5,461.8 150.7,465 147.5,468.2 144.3,465" fill="#111"/>
<polygon points="139.5,465.55 142.7,468.75 139.5,471.95 136.3,468.75" fill="#111"/>
<polygon points="123.75,480.55 126.95,483.75 123.75,486.95 120.55,483.75" fill="#111"/>
<polygon points="132,480.55 135.2,483.75 132,486.95 128.8,483.75" fill="#111"/>
<polygon points="139.5,480.55 142.7,483.75 139.5,486.95 136.3,483.75" fill="#111"/>
<polygon points="147.5,480.55 150.7,483.75 147.5,486.95 144.3,483.75" fill="#111"/>
<polygon points="155.5,480.55 158.7,483.75 155.5,486.95 152.3,483.75" fill="#111"/>
<polygon points="139.5,493.8 142.7,497 139.5,500.2 136.3,497" fill="#111"/>
<polygon points="132,509.3 135.2,512.5 132,515.7 128.8,512.5" fill="#111"/>
<polygon points="139.5,510.55 142.7,513.75 139.5,516.95 136.3,513.75" fill="#111"/>
<polygon points="147.5,509.3 150.7,512.5 147.5,515.7 144.3,512.5" fill="#111"/>
<polygon points="139.5,521.3 142.7,524.5 139.5,527.7 136.3,524.5" fill="#111"/>
<line x1="117.8" y1="483.75" x2="161.2" y2="483.75" stroke="#111" stroke-width="1.7"/>
<line x1="139.5" y1="472.5" x2="139.5" y2="509" stroke="#111" stroke-width="1.7"/>
<line x1="128.3" y1="472.5" x2="150.7" y2="472.5" stroke="#111" stroke-width="1.7"/>
<line x1="128.3" y1="509" x2="150.7" y2="509" stroke="#111" stroke-width="1.7"/>
<circle cx="212" cy="453.75" r="2.35" fill="none" stroke="#111" stroke-width="1.55"/>
<circle cx="204.5" cy="458.75" r="2.35" fill="none" stroke="#111" stroke-width="1.55"/>
<circle cx="196.25" cy="469.5" r="2.35" fill="none" stroke="#111" stroke-width="1.55"/>
<circle cx="204.5" cy="473" r="2.35" fill="none" stroke="#111" stroke-width="1.55"/>
<circle cx="196.25" cy="482.5" r="2.35" fill="none" stroke="#111" stroke-width="1.55"/>
<circle cx="212" cy="483.75" r="2.35" fill="none" stroke="#111" stroke-width="1.55"/>
<circle cx="220" cy="481.25" r="2.35" fill="none" stroke="#111" stroke-width="1.55"/>
<circle cx="204.5" cy="487" r="2.35" fill="none" stroke="#111" stroke-width="1.55"/>
<circle cx="204.5" cy="497.5" r="2.35" fill="none" stroke="#111" stroke-width="1.55"/>
<circle cx="188.75" cy="509.5" r="2.35" fill="none" stroke="#111" stroke-width="1.55"/>
<circle cx="200" cy="508.75" r="2.35" fill="none" stroke="#111" stroke-width="1.55"/>
<circle cx="208.75" cy="509.5" r="2.35" fill="none" stroke="#111" stroke-width="1.55"/>
<circle cx="220" cy="511.25" r="2.35" fill="none" stroke="#111" stroke-width="1.55"/>
<circle cx="196.25" cy="514.5" r="2.35" fill="none" stroke="#111" stroke-width="1.55"/>
<circle cx="204.5" cy="515" r="2.35" fill="none" stroke="#111" stroke-width="1.55"/>
<circle cx="212" cy="515" r="2.35" fill="none" stroke="#111" stroke-width="1.55"/>
<line x1="182.6" y1="492.5" x2="226.4" y2="492.5" stroke="#111" stroke-width="1.7"/>
<line x1="204.5" y1="475" x2="204.5" y2="510" stroke="#111" stroke-width="1.7"/>
<line x1="193.5" y1="475" x2="215.5" y2="475" stroke="#111" stroke-width="1.7"/>
<line x1="193.5" y1="510" x2="215.5" y2="510" stroke="#111" stroke-width="1.7"/>
<text x="1.2" y="762.6" font-size="16.6" text-anchor="start" fill="#000" stroke="#000" stroke-width="0.35" font-weight="bold">I</text>
<line x1="40.4" y1="764" x2="40.4" y2="896.3" stroke="#111" stroke-width="1.5"/>
<line x1="36.6" y1="764.7" x2="40.4" y2="764.7" stroke="#111" stroke-width="1.2"/>
<text x="35.5" y="766.6" font-size="6.5" text-anchor="end" fill="#111" stroke="#111" stroke-width="0.42" font-weight="bold">300</text>
<line x1="36.6" y1="808.3" x2="40.4" y2="808.3" stroke="#111" stroke-width="1.2"/>
<text x="35.5" y="810.2" font-size="6.5" text-anchor="end" fill="#111" stroke="#111" stroke-width="0.42" font-weight="bold">200</text>
<line x1="36.6" y1="852" x2="40.4" y2="852" stroke="#111" stroke-width="1.2"/>
<text x="35.5" y="853.9" font-size="6.5" text-anchor="end" fill="#111" stroke="#111" stroke-width="0.42" font-weight="bold">100</text>
<line x1="36.6" y1="895.6" x2="40.4" y2="895.6" stroke="#111" stroke-width="1.2"/>
<text x="35.5" y="897.5" font-size="6.5" text-anchor="end" fill="#111" stroke="#111" stroke-width="0.42" font-weight="bold">0</text>
<text x="19.8" y="831.7" font-size="6.5" text-anchor="middle" fill="#111" stroke="#111" stroke-width="0.2" font-weight="bold" textLength="65.4" lengthAdjust="spacing" transform="rotate(-90 19.8 831.7)">IL-10 in DC (pg/mL)</text>
<line x1="39.7" y1="895.6" x2="238" y2="895.6" stroke="#111" stroke-width="1.5"/>
<line x1="73.75" y1="895.6" x2="73.75" y2="898.6" stroke="#111" stroke-width="1.1"/>
<line x1="138" y1="895.6" x2="138" y2="898.6" stroke="#111" stroke-width="1.1"/>
<line x1="202.5" y1="895.6" x2="202.5" y2="898.6" stroke="#111" stroke-width="1.1"/>
<text x="73.75" y="906.9" font-size="6.3" text-anchor="middle" fill="#111" stroke="#111" stroke-width="0.28" textLength="19.58" lengthAdjust="spacingAndGlyphs">mDCs</text>
<text x="138" y="906.9" font-size="6.3" text-anchor="middle" fill="#111" stroke="#111" stroke-width="0.28" textLength="19.58" lengthAdjust="spacingAndGlyphs">mDCs</text>
<text x="138" y="915.5" font-size="6.3" text-anchor="middle" fill="#111" stroke="#111" stroke-width="0.28" textLength="34.85" lengthAdjust="spacingAndGlyphs">MSCs(ITP)</text>
<text x="202.5" y="906.9" font-size="6.3" text-anchor="middle" fill="#111" stroke="#111" stroke-width="0.28" textLength="19.58" lengthAdjust="spacingAndGlyphs">mDCs</text>
<text x="202.5" y="915.5" font-size="6.3" text-anchor="middle" fill="#111" stroke="#111" stroke-width="0.28" textLength="51.69" lengthAdjust="spacingAndGlyphs">THD-MSCs(ITP)</text>
<line x1="73.75" y1="759.8" x2="202.5" y2="759.8" stroke="#888" stroke-width="1.15"/>
<circle cx="136.2" cy="755.6" r="1.6" fill="#111"/>
<circle cx="141.2" cy="755.6" r="1.6" fill="#111"/>
<line x1="138.75" y1="767.3" x2="202.5" y2="767.3" stroke="#333" stroke-width="1.15"/>
<circle cx="169.7" cy="763.5" r="1.6" fill="#111"/>
<rect x="55.7" y="818.7" width="5.1" height="5.1" fill="#111"/>
<rect x="78.7" y="820.7" width="5.1" height="5.1" fill="#111"/>
<rect x="63.7" y="824.45" width="5.1" height="5.1" fill="#111"/>
<rect x="71.2" y="825.2" width="5.1" height="5.1" fill="#111"/>
<rect x="63.7" y="830.2" width="5.1" height="5.1" fill="#111"/>
<rect x="86.7" y="830.2" width="5.1" height="5.1" fill="#111"/>
<rect x="78.7" y="834.45" width="5.1" height="5.1" fill="#111"/>
<rect x="71.2" y="836.45" width="5.1" height="5.1" fill="#111"/>
<rect x="86.7" y="838.2" width="5.1" height="5.1" fill="#111"/>
<rect x="55.7" y="841.95" width="5.1" height="5.1" fill="#111"/>
<rect x="63.7" y="843.95" width="5.1" height="5.1" fill="#111"/>
<rect x="78.7" y="843.95" width="5.1" height="5.1" fill="#111"/>
<rect x="71.2" y="845.7" width="5.1" height="5.1" fill="#111"/>
<rect x="63.7" y="847.45" width="5.1" height="5.1" fill="#111"/>
<rect x="78.7" y="851.95" width="5.1" height="5.1" fill="#111"/>
<rect x="71.2" y="854.95" width="5.1" height="5.1" fill="#111"/>
<line x1="51.85" y1="840" x2="95.65" y2="840" stroke="#111" stroke-width="1.7"/>
<line x1="73.75" y1="829.5" x2="73.75" y2="848.25" stroke="#111" stroke-width="1.7"/>
<line x1="62.75" y1="829.5" x2="84.75" y2="829.5" stroke="#111" stroke-width="1.7"/>
<line x1="62.75" y1="848.25" x2="84.75" y2="848.25" stroke="#111" stroke-width="1.7"/>
<polygon points="138,799.8 141.2,803 138,806.2 134.8,803" fill="#111"/>
<polygon points="122.5,815.05 125.7,818.25 122.5,821.45 119.3,818.25" fill="#111"/>
<polygon points="130,816.3 133.2,819.5 130,822.7 126.8,819.5" fill="#111"/>
<polygon points="138,815.8 141.2,819 138,822.2 134.8,819" fill="#111"/>
<polygon points="146.25,815.8 149.45,819 146.25,822.2 143.05,819" fill="#111"/>
<polygon points="153.75,813.05 156.95,816.25 153.75,819.45 150.55,816.25" fill="#111"/>
<polygon points="153.75,821.8 156.95,825 153.75,828.2 150.55,825" fill="#111"/>
<polygon points="130,826.8 133.2,830 130,833.2 126.8,830" fill="#111"/>
<polygon points="138,826.8 141.2,830 138,833.2 134.8,830" fill="#111"/>
<polygon points="146.25,827.55 149.45,830.75 146.25,833.95 143.05,830.75" fill="#111"/>
<polygon points="130,836.3 133.2,839.5 130,842.7 126.8,839.5" fill="#111"/>
<polygon points="138,838.8 141.2,842 138,845.2 134.8,842" fill="#111"/>
<polygon points="130,844.55 133.2,847.75 130,850.95 126.8,847.75" fill="#111"/>
<polygon points="138,843.8 141.2,847 138,850.2 134.8,847" fill="#111"/>
<polygon points="146.25,844.55 149.45,847.75 146.25,850.95 143.05,847.75" fill="#111"/>
<polygon points="153.75,844.55 156.95,847.75 153.75,850.95 150.55,847.75" fill="#111"/>
<polygon points="138,850.05 141.2,853.25 138,856.45 134.8,853.25" fill="#111"/>
<line x1="116.5" y1="830.25" x2="159.5" y2="830.25" stroke="#111" stroke-width="1.7"/>
<line x1="138" y1="819" x2="138" y2="847" stroke="#111" stroke-width="1.7"/>
<line x1="127" y1="819" x2="149" y2="819" stroke="#111" stroke-width="1.7"/>
<line x1="127" y1="847" x2="149" y2="847" stroke="#111" stroke-width="1.7"/>
<circle cx="195" cy="773.75" r="2.35" fill="none" stroke="#111" stroke-width="1.55"/>
<circle cx="202.5" cy="775" r="2.35" fill="none" stroke="#111" stroke-width="1.55"/>
<circle cx="195" cy="778.75" r="2.35" fill="none" stroke="#111" stroke-width="1.55"/>
<circle cx="202.5" cy="783.75" r="2.35" fill="none" stroke="#111" stroke-width="1.55"/>
<circle cx="210.75" cy="783.75" r="2.35" fill="none" stroke="#111" stroke-width="1.55"/>
<circle cx="202.5" cy="797" r="2.35" fill="none" stroke="#111" stroke-width="1.55"/>
<circle cx="202.5" cy="805.5" r="2.35" fill="none" stroke="#111" stroke-width="1.55"/>
<circle cx="187" cy="808.75" r="2.35" fill="none" stroke="#111" stroke-width="1.55"/>
<circle cx="195" cy="812" r="2.35" fill="none" stroke="#111" stroke-width="1.55"/>
<circle cx="202.5" cy="814.5" r="2.35" fill="none" stroke="#111" stroke-width="1.55"/>
<circle cx="210.75" cy="808.75" r="2.35" fill="none" stroke="#111" stroke-width="1.55"/>
<circle cx="210.75" cy="816.25" r="2.35" fill="none" stroke="#111" stroke-width="1.55"/>
<circle cx="202.5" cy="823.25" r="2.35" fill="none" stroke="#111" stroke-width="1.55"/>
<circle cx="195" cy="830.75" r="2.35" fill="none" stroke="#111" stroke-width="1.55"/>
<circle cx="202.5" cy="833.25" r="2.35" fill="none" stroke="#111" stroke-width="1.55"/>
<circle cx="202.5" cy="850.75" r="2.35" fill="none" stroke="#111" stroke-width="1.55"/>
<line x1="180.9" y1="808.75" x2="224.1" y2="808.75" stroke="#111" stroke-width="1.7"/>
<line x1="202.5" y1="783.75" x2="202.5" y2="821.25" stroke="#111" stroke-width="1.7"/>
<line x1="191.5" y1="783.75" x2="213.5" y2="783.75" stroke="#111" stroke-width="1.7"/>
<line x1="191.5" y1="821.25" x2="213.5" y2="821.25" stroke="#111" stroke-width="1.7"/>
<text x="279.2" y="763.1" font-size="16.6" text-anchor="start" fill="#000" stroke="#000" stroke-width="0.35" font-weight="bold">J</text>
<line x1="308.5" y1="764.2" x2="308.5" y2="896.3" stroke="#111" stroke-width="1.5"/>
<line x1="304.7" y1="764.9" x2="308.5" y2="764.9" stroke="#111" stroke-width="1.2"/>
<text x="303.6" y="766.8" font-size="6.5" text-anchor="end" fill="#111" stroke="#111" stroke-width="0.42" font-weight="bold">200</text>
<line x1="304.7" y1="797.6" x2="308.5" y2="797.6" stroke="#111" stroke-width="1.2"/>
<text x="303.6" y="799.5" font-size="6.5" text-anchor="end" fill="#111" stroke="#111" stroke-width="0.42" font-weight="bold">150</text>
<line x1="304.7" y1="830.3" x2="308.5" y2="830.3" stroke="#111" stroke-width="1.2"/>
<text x="303.6" y="832.2" font-size="6.5" text-anchor="end" fill="#111" stroke="#111" stroke-width="0.42" font-weight="bold">100</text>
<line x1="304.7" y1="863" x2="308.5" y2="863" stroke="#111" stroke-width="1.2"/>
<text x="303.6" y="864.9" font-size="6.5" text-anchor="end" fill="#111" stroke="#111" stroke-width="0.42" font-weight="bold">50</text>
<line x1="304.7" y1="895.6" x2="308.5" y2="895.6" stroke="#111" stroke-width="1.2"/>
<text x="303.6" y="897.5" font-size="6.5" text-anchor="end" fill="#111" stroke="#111" stroke-width="0.42" font-weight="bold">0</text>
<text x="287.3" y="833" font-size="6.5" text-anchor="middle" fill="#111" stroke="#111" stroke-width="0.2" font-weight="bold" textLength="69.4" lengthAdjust="spacing" transform="rotate(-90 287.3 833)">TGF-β  in DC (pg/mL)</text>
<line x1="307.8" y1="895.6" x2="505" y2="895.6" stroke="#111" stroke-width="1.5"/>
<line x1="340.5" y1="895.6" x2="340.5" y2="898.6" stroke="#111" stroke-width="1.1"/>
<line x1="405.75" y1="895.6" x2="405.75" y2="898.6" stroke="#111" stroke-width="1.1"/>
<line x1="470" y1="895.6" x2="470" y2="898.6" stroke="#111" stroke-width="1.1"/>
<text x="340.5" y="906.9" font-size="6.3" text-anchor="middle" fill="#111" stroke="#111" stroke-width="0.28" textLength="19.58" lengthAdjust="spacingAndGlyphs">mDCs</text>
<text x="405.75" y="906.9" font-size="6.3" text-anchor="middle" fill="#111" stroke="#111" stroke-width="0.28" textLength="19.58" lengthAdjust="spacingAndGlyphs">mDCs</text>
<text x="405.75" y="915.5" font-size="6.3" text-anchor="middle" fill="#111" stroke="#111" stroke-width="0.28" textLength="34.85" lengthAdjust="spacingAndGlyphs">MSCs(ITP)</text>
<text x="470" y="906.9" font-size="6.3" text-anchor="middle" fill="#111" stroke="#111" stroke-width="0.28" textLength="19.58" lengthAdjust="spacingAndGlyphs">mDCs</text>
<text x="470" y="915.5" font-size="6.3" text-anchor="middle" fill="#111" stroke="#111" stroke-width="0.28" textLength="51.69" lengthAdjust="spacingAndGlyphs">THD-MSCs(ITP)</text>
<line x1="340.5" y1="759.6" x2="470" y2="759.6" stroke="#888" stroke-width="1.15"/>
<circle cx="403.75" cy="755.5" r="1.6" fill="#111"/>
<circle cx="408.75" cy="755.5" r="1.6" fill="#111"/>
<line x1="405.75" y1="767.2" x2="470" y2="767.2" stroke="#333" stroke-width="1.15"/>
<circle cx="437.5" cy="763.7" r="1.6" fill="#111"/>
<rect x="330.75" y="804.65" width="5.1" height="5.1" fill="#111"/>
<rect x="338.45" y="809.45" width="5.1" height="5.1" fill="#111"/>
<rect x="330.75" y="821.25" width="5.1" height="5.1" fill="#111"/>
<rect x="322.55" y="830.15" width="5.1" height="5.1" fill="#111"/>
<rect x="326.85" y="826.25" width="5.1" height="5.1" fill="#111"/>
<rect x="330.75" y="828.25" width="5.1" height="5.1" fill="#111"/>
<rect x="330.75" y="832.05" width="5.1" height="5.1" fill="#111"/>
<rect x="334.55" y="825.35" width="5.1" height="5.1" fill="#111"/>
<rect x="338.45" y="826.25" width="5.1" height="5.1" fill="#111"/>
<rect x="338.45" y="833.05" width="5.1" height="5.1" fill="#111"/>
<rect x="342.25" y="826.25" width="5.1" height="5.1" fill="#111"/>
<rect x="346.15" y="823.45" width="5.1" height="5.1" fill="#111"/>
<rect x="346.15" y="830.15" width="5.1" height="5.1" fill="#111"/>
<rect x="349.95" y="826.25" width="5.1" height="5.1" fill="#111"/>
<rect x="353.75" y="829.65" width="5.1" height="5.1" fill="#111"/>
<rect x="338.45" y="843.15" width="5.1" height="5.1" fill="#111"/>
<line x1="319.1" y1="829.8" x2="362.5" y2="829.8" stroke="#111" stroke-width="1.7"/>
<line x1="340.8" y1="826.2" x2="340.8" y2="833.8" stroke="#111" stroke-width="1.7"/>
<line x1="330.8" y1="826.2" x2="350.8" y2="826.2" stroke="#111" stroke-width="1.7"/>
<line x1="330.8" y1="833.8" x2="350.8" y2="833.8" stroke="#111" stroke-width="1.7"/>
<polygon points="405.75,783.8 408.95,787 405.75,790.2 402.55,787" fill="#111"/>
<polygon points="405.75,800.55 408.95,803.75 405.75,806.95 402.55,803.75" fill="#111"/>
<polygon points="397.5,809.8 400.7,813 397.5,816.2 394.3,813" fill="#111"/>
<polygon points="405.75,810.55 408.95,813.75 405.75,816.95 402.55,813.75" fill="#111"/>
<polygon points="413.75,810.55 416.95,813.75 413.75,816.95 410.55,813.75" fill="#111"/>
<polygon points="421.25,809.3 424.45,812.5 421.25,815.7 418.05,812.5" fill="#111"/>
<polygon points="405.75,815.55 408.95,818.75 405.75,821.95 402.55,818.75" fill="#111"/>
<polygon points="401.25,819.3 404.45,822.5 401.25,825.7 398.05,822.5" fill="#111"/>
<polygon points="390,823.05 393.2,826.25 390,829.45 386.8,826.25" fill="#111"/>
<polygon points="397.5,825.55 400.7,828.75 397.5,831.95 394.3,828.75" fill="#111"/>
<polygon points="405.75,823.05 408.95,826.25 405.75,829.45 402.55,826.25" fill="#111"/>
<polygon points="413.75,825.55 416.95,828.75 413.75,831.95 410.55,828.75" fill="#111"/>
<polygon points="421.25,821.8 424.45,825 421.25,828.2 418.05,825" fill="#111"/>
<polygon points="405.75,829.3 408.95,832.5 405.75,835.7 402.55,832.5" fill="#111"/>
<polygon points="397.5,838.8 400.7,842 397.5,845.2 394.3,842" fill="#111"/>
<polygon points="405.75,842.3 408.95,845.5 405.75,848.7 402.55,845.5" fill="#111"/>
<polygon points="413.75,840.55 416.95,843.75 413.75,846.95 410.55,843.75" fill="#111"/>
<polygon points="421.25,836.8 424.45,840 421.25,843.2 418.05,840" fill="#111"/>
<line x1="383.85" y1="825.75" x2="427.65" y2="825.75" stroke="#111" stroke-width="1.7"/>
<line x1="405.75" y1="813" x2="405.75" y2="837" stroke="#111" stroke-width="1.7"/>
<line x1="393.85" y1="813" x2="417.65" y2="813" stroke="#111" stroke-width="1.7"/>
<line x1="393.85" y1="837" x2="417.65" y2="837" stroke="#111" stroke-width="1.7"/>
<circle cx="470" cy="772" r="2.35" fill="none" stroke="#111" stroke-width="1.55"/>
<circle cx="462.5" cy="779.5" r="2.35" fill="none" stroke="#111" stroke-width="1.55"/>
<circle cx="470" cy="787" r="2.35" fill="none" stroke="#111" stroke-width="1.55"/>
<circle cx="462.5" cy="792.5" r="2.35" fill="none" stroke="#111" stroke-width="1.55"/>
<circle cx="486.25" cy="792.5" r="2.35" fill="none" stroke="#111" stroke-width="1.55"/>
<circle cx="470" cy="798.75" r="2.35" fill="none" stroke="#111" stroke-width="1.55"/>
<circle cx="478.25" cy="798" r="2.35" fill="none" stroke="#111" stroke-width="1.55"/>
<circle cx="462.5" cy="807.5" r="2.35" fill="none" stroke="#111" stroke-width="1.55"/>
<circle cx="470" cy="808" r="2.35" fill="none" stroke="#111" stroke-width="1.55"/>
<circle cx="478.25" cy="804.5" r="2.35" fill="none" stroke="#111" stroke-width="1.55"/>
<circle cx="462.5" cy="812.5" r="2.35" fill="none" stroke="#111" stroke-width="1.55"/>
<circle cx="470" cy="817" r="2.35" fill="none" stroke="#111" stroke-width="1.55"/>
<circle cx="478.25" cy="816.25" r="2.35" fill="none" stroke="#111" stroke-width="1.55"/>
<circle cx="462.5" cy="820" r="2.35" fill="none" stroke="#111" stroke-width="1.55"/>
<circle cx="470" cy="825.75" r="2.35" fill="none" stroke="#111" stroke-width="1.55"/>
<circle cx="470" cy="841.25" r="2.35" fill="none" stroke="#111" stroke-width="1.55"/>
<line x1="449.4" y1="806.25" x2="490.6" y2="806.25" stroke="#111" stroke-width="1.7"/>
<line x1="470" y1="792.5" x2="470" y2="816.25" stroke="#111" stroke-width="1.7"/>
<line x1="458.8" y1="792.5" x2="481.2" y2="792.5" stroke="#111" stroke-width="1.7"/>
<line x1="458.8" y1="816.25" x2="481.2" y2="816.25" stroke="#111" stroke-width="1.7"/>
<text x="1.2" y="577.6" font-size="16.6" text-anchor="start" fill="#000" stroke="#000" stroke-width="0.35" font-weight="bold">G</text>
<line x1="41.8" y1="581.6" x2="41.8" y2="713.7" stroke="#111" stroke-width="1.5"/>
<line x1="38" y1="582.3" x2="41.8" y2="582.3" stroke="#111" stroke-width="1.2"/>
<text x="36.9" y="584.2" font-size="6.5" text-anchor="end" fill="#111" stroke="#111" stroke-width="0.42" font-weight="bold">150</text>
<line x1="38" y1="625.9" x2="41.8" y2="625.9" stroke="#111" stroke-width="1.2"/>
<text x="36.9" y="627.8" font-size="6.5" text-anchor="end" fill="#111" stroke="#111" stroke-width="0.42" font-weight="bold">100</text>
<line x1="38" y1="669.4" x2="41.8" y2="669.4" stroke="#111" stroke-width="1.2"/>
<text x="36.9" y="671.3" font-size="6.5" text-anchor="end" fill="#111" stroke="#111" stroke-width="0.42" font-weight="bold">50</text>
<line x1="38" y1="713" x2="41.8" y2="713" stroke="#111" stroke-width="1.2"/>
<text x="36.9" y="714.9" font-size="6.5" text-anchor="end" fill="#111" stroke="#111" stroke-width="0.42" font-weight="bold">0</text>
<text x="20.4" y="650.5" font-size="6.5" text-anchor="middle" fill="#111" stroke="#111" stroke-width="0.2" font-weight="bold" textLength="133" lengthAdjust="spacing" transform="rotate(-90 20.4 650.5)">Mean fluorescence intensity of CD80</text>
<line x1="41.1" y1="712.8" x2="237" y2="712.8" stroke="#111" stroke-width="1.5"/>
<line x1="67" y1="712.8" x2="67" y2="715.8" stroke="#111" stroke-width="1.1"/>
<line x1="115.5" y1="712.8" x2="115.5" y2="715.8" stroke="#111" stroke-width="1.1"/>
<line x1="164" y1="712.8" x2="164" y2="715.8" stroke="#111" stroke-width="1.1"/>
<line x1="212.5" y1="712.8" x2="212.5" y2="715.8" stroke="#111" stroke-width="1.1"/>
<text x="66.4" y="724.1" font-size="6.3" text-anchor="middle" fill="#111" stroke="#111" stroke-width="0.28" textLength="20.5" lengthAdjust="spacingAndGlyphs">mDCs</text>
<text x="66" y="732.7" font-size="6.3" text-anchor="middle" fill="#111" stroke="#111" stroke-width="0.28" textLength="47.3" lengthAdjust="spacingAndGlyphs">MSCs(control)</text>
<text x="115.9" y="724.1" font-size="6.3" text-anchor="middle" fill="#111" stroke="#111" stroke-width="0.28" textLength="20.2" lengthAdjust="spacingAndGlyphs">mDCs</text>
<text x="115.7" y="732.7" font-size="6.3" text-anchor="middle" fill="#111" stroke="#111" stroke-width="0.28" textLength="47.6" lengthAdjust="spacingAndGlyphs">THD-MSCs(ITP)</text>
<text x="165.3" y="724.1" font-size="6.3" text-anchor="middle" fill="#111" stroke="#111" stroke-width="0.28" textLength="20.2" lengthAdjust="spacingAndGlyphs">mDCs</text>
<text x="167.1" y="732.7" font-size="6.3" text-anchor="middle" fill="#111" stroke="#111" stroke-width="0.28" textLength="35" lengthAdjust="spacingAndGlyphs">MSCs(ITP)</text>
<text x="211.6" y="724.1" font-size="6.3" text-anchor="middle" fill="#111" stroke="#111" stroke-width="0.28" textLength="19.6" lengthAdjust="spacingAndGlyphs">mDCs</text>
<line x1="115.8" y1="584.1" x2="164.2" y2="584.1" stroke="#888" stroke-width="1.15"/>
<circle cx="138" cy="578.3" r="1.7" fill="#111"/>
<circle cx="143.2" cy="578.3" r="1.7" fill="#111"/>
<line x1="67" y1="689.5" x2="67" y2="698.9" stroke="#111" stroke-width="1.7"/>
<line x1="67" y1="701.5" x2="67" y2="702.3" stroke="#111" stroke-width="1.7"/>
<line x1="58.8" y1="689.5" x2="75.2" y2="689.5" stroke="#111" stroke-width="1.7"/>
<line x1="58.8" y1="702.3" x2="75.2" y2="702.3" stroke="#111" stroke-width="1.7"/>
<rect x="50.5" y="698.9" width="33" height="2.6" fill="none" stroke="#111" stroke-width="1.7"/>
<line x1="50.5" y1="700.3" x2="83.5" y2="700.3" stroke="#111" stroke-width="1.7"/>
<line x1="115.5" y1="679.8" x2="115.5" y2="684.5" stroke="#111" stroke-width="1.6"/>
<line x1="115.5" y1="697" x2="115.5" y2="698.6" stroke="#111" stroke-width="1.6"/>
<line x1="107" y1="679.8" x2="124" y2="679.8" stroke="#111" stroke-width="1.6"/>
<line x1="107" y1="698.6" x2="124" y2="698.6" stroke="#111" stroke-width="1.6"/>
<rect x="99.5" y="684.5" width="32.5" height="12.5" fill="none" stroke="#111" stroke-width="1.6"/>
<line x1="99.5" y1="694.6" x2="132" y2="694.6" stroke="#111" stroke-width="1.6"/>
<line x1="164" y1="599.8" x2="164" y2="673.7" stroke="#111" stroke-width="1.6"/>
<line x1="164" y1="691.5" x2="164" y2="699.2" stroke="#111" stroke-width="1.6"/>
<line x1="154.8" y1="599.8" x2="173.2" y2="599.8" stroke="#111" stroke-width="1.6"/>
<line x1="154.8" y1="699.2" x2="173.2" y2="699.2" stroke="#111" stroke-width="1.6"/>
<rect x="148" y="673.7" width="32" height="17.8" fill="none" stroke="#111" stroke-width="1.6"/>
<line x1="148" y1="683.2" x2="180" y2="683.2" stroke="#111" stroke-width="1.6"/>
<line x1="212.5" y1="617" x2="212.5" y2="660.8" stroke="#111" stroke-width="1.6"/>
<line x1="212.5" y1="691" x2="212.5" y2="698.3" stroke="#111" stroke-width="1.6"/>
<line x1="203.9" y1="617" x2="221.1" y2="617" stroke="#111" stroke-width="1.6"/>
<line x1="203.9" y1="698.3" x2="221.1" y2="698.3" stroke="#111" stroke-width="1.6"/>
<rect x="196.3" y="660.8" width="32.7" height="30.2" fill="none" stroke="#111" stroke-width="1.6"/>
<line x1="196.3" y1="676.8" x2="229" y2="676.8" stroke="#111" stroke-width="1.6"/>
<text x="278.2" y="577.6" font-size="16.6" text-anchor="start" fill="#000" stroke="#000" stroke-width="0.35" font-weight="bold">H</text>
<line x1="313" y1="581.2" x2="313" y2="713.7" stroke="#111" stroke-width="1.5"/>
<line x1="309.2" y1="581.9" x2="313" y2="581.9" stroke="#111" stroke-width="1.2"/>
<text x="308.1" y="583.8" font-size="6.5" text-anchor="end" fill="#111" stroke="#111" stroke-width="0.42" font-weight="bold">250</text>
<line x1="309.2" y1="608.1" x2="313" y2="608.1" stroke="#111" stroke-width="1.2"/>
<text x="308.1" y="610" font-size="6.5" text-anchor="end" fill="#111" stroke="#111" stroke-width="0.42" font-weight="bold">200</text>
<line x1="309.2" y1="634.4" x2="313" y2="634.4" stroke="#111" stroke-width="1.2"/>
<text x="308.1" y="636.3" font-size="6.5" text-anchor="end" fill="#111" stroke="#111" stroke-width="0.42" font-weight="bold">150</text>
<line x1="309.2" y1="660.6" x2="313" y2="660.6" stroke="#111" stroke-width="1.2"/>
<text x="308.1" y="662.5" font-size="6.5" text-anchor="end" fill="#111" stroke="#111" stroke-width="0.42" font-weight="bold">100</text>
<line x1="309.2" y1="686.8" x2="313" y2="686.8" stroke="#111" stroke-width="1.2"/>
<text x="308.1" y="688.7" font-size="6.5" text-anchor="end" fill="#111" stroke="#111" stroke-width="0.42" font-weight="bold">50</text>
<line x1="309.2" y1="713" x2="313" y2="713" stroke="#111" stroke-width="1.2"/>
<text x="308.1" y="714.9" font-size="6.5" text-anchor="end" fill="#111" stroke="#111" stroke-width="0.42" font-weight="bold">0</text>
<text x="290.3" y="651.7" font-size="6.5" text-anchor="middle" fill="#111" stroke="#111" stroke-width="0.2" font-weight="bold" textLength="133.9" lengthAdjust="spacing" transform="rotate(-90 290.3 651.7)">Mean fluorescence intensity of CD86</text>
<line x1="312.3" y1="713" x2="506" y2="713" stroke="#111" stroke-width="1.5"/>
<line x1="336.5" y1="713" x2="336.5" y2="716" stroke="#111" stroke-width="1.1"/>
<line x1="384.8" y1="713" x2="384.8" y2="716" stroke="#111" stroke-width="1.1"/>
<line x1="433.8" y1="713" x2="433.8" y2="716" stroke="#111" stroke-width="1.1"/>
<line x1="482.7" y1="713" x2="482.7" y2="716" stroke="#111" stroke-width="1.1"/>
<text x="335.6" y="724.3" font-size="6.3" text-anchor="middle" fill="#111" stroke="#111" stroke-width="0.28" textLength="18.6" lengthAdjust="spacingAndGlyphs">mDCs</text>
<text x="335.5" y="732.9" font-size="6.3" text-anchor="middle" fill="#111" stroke="#111" stroke-width="0.28" textLength="45.2" lengthAdjust="spacingAndGlyphs">MSCs(control)</text>
<text x="385.6" y="724.3" font-size="6.3" text-anchor="middle" fill="#111" stroke="#111" stroke-width="0.28" textLength="18.2" lengthAdjust="spacingAndGlyphs">mDCs</text>
<text x="388.2" y="732.9" font-size="6.3" text-anchor="middle" fill="#111" stroke="#111" stroke-width="0.28" textLength="51.5" lengthAdjust="spacingAndGlyphs">THD-MSCs(ITP)</text>
<text x="437.4" y="724.3" font-size="6.3" text-anchor="middle" fill="#111" stroke="#111" stroke-width="0.28" textLength="18" lengthAdjust="spacingAndGlyphs">mDCs</text>
<text x="438.9" y="732.9" font-size="6.3" text-anchor="middle" fill="#111" stroke="#111" stroke-width="0.28" textLength="30.5" lengthAdjust="spacingAndGlyphs">MSCs(ITP)</text>
<text x="481.4" y="724.3" font-size="6.3" text-anchor="middle" fill="#111" stroke="#111" stroke-width="0.28" textLength="19.5" lengthAdjust="spacingAndGlyphs">mDCs</text>
<line x1="385.4" y1="583.6" x2="434.6" y2="583.6" stroke="#888" stroke-width="1.15"/>
<circle cx="408.2" cy="577.8" r="1.7" fill="#111"/>
<circle cx="413.4" cy="577.8" r="1.7" fill="#111"/>
<rect x="320" y="701.3" width="34" height="4.7" fill="#111"/>
<rect x="369" y="698.3" width="33" height="5.3" fill="#333" stroke="#111" stroke-width="1.5"/>
<line x1="369" y1="700.6" x2="402" y2="700.6" stroke="#999" stroke-width="0.9"/>
<line x1="385.6" y1="688.1" x2="385.6" y2="698.3" stroke="#111" stroke-width="1.6"/>
<line x1="377" y1="688.1" x2="394.2" y2="688.1" stroke="#111" stroke-width="1.6"/>
<line x1="377" y1="705.6" x2="394.2" y2="705.6" stroke="#111" stroke-width="1.6"/>
<line x1="385.6" y1="703.6" x2="385.6" y2="705.6" stroke="#111" stroke-width="1.6"/>
<line x1="433.8" y1="640" x2="433.8" y2="650.8" stroke="#111" stroke-width="1.6"/>
<line x1="433.8" y1="703.5" x2="433.8" y2="704.6" stroke="#111" stroke-width="1.6"/>
<line x1="424.2" y1="640" x2="443.4" y2="640" stroke="#111" stroke-width="1.6"/>
<line x1="424.2" y1="704.6" x2="443.4" y2="704.6" stroke="#111" stroke-width="1.6"/>
<rect x="417.4" y="650.8" width="32.6" height="52.7" fill="none" stroke="#111" stroke-width="1.6"/>
<line x1="417.4" y1="674.6" x2="450" y2="674.6" stroke="#111" stroke-width="1.6"/>
<line x1="482.7" y1="602" x2="482.7" y2="652.7" stroke="#111" stroke-width="1.6"/>
<line x1="482.7" y1="688" x2="482.7" y2="702" stroke="#111" stroke-width="1.6"/>
<line x1="473.7" y1="602" x2="491.7" y2="602" stroke="#111" stroke-width="1.6"/>
<line x1="473.7" y1="702" x2="491.7" y2="702" stroke="#111" stroke-width="1.6"/>
<rect x="466.2" y="652.7" width="33" height="35.3" fill="none" stroke="#111" stroke-width="1.6"/>
<line x1="466.2" y1="665.4" x2="499.2" y2="665.4" stroke="#111" stroke-width="1.6"/>
<text x="278.2" y="413.8" font-size="16.6" text-anchor="start" fill="#000" stroke="#000" stroke-width="0.35" font-weight="bold">F</text>
<text x="360.3" y="448" font-size="5.5" text-anchor="end" fill="#111" stroke="#111" stroke-width="0.1" font-weight="bold" textLength="80.9" lengthAdjust="spacingAndGlyphs">THD-MSC(ITP)-DCs+mDCs+LYM</text>
<line x1="361.3" y1="446" x2="364.2" y2="446" stroke="#111" stroke-width="1"/>
<line x1="406.2" y1="446" x2="429.2" y2="446" stroke="#111" stroke-width="1.1"/>
<line x1="429.2" y1="444.3" x2="429.2" y2="447.7" stroke="#111" stroke-width="1.1"/>
<rect x="364.7" y="443.15" width="41.5" height="5.7" fill="url(#checkh)" stroke="#111" stroke-width="1.4"/>
<line x1="390.8" y1="446" x2="406.2" y2="446" stroke="#555" stroke-width="1"/>
<line x1="390.8" y1="444.4" x2="390.8" y2="447.6" stroke="#555" stroke-width="1"/>
<text x="360.3" y="456.1" font-size="5.5" text-anchor="end" fill="#111" stroke="#111" stroke-width="0.1" font-weight="bold" textLength="68.3" lengthAdjust="spacingAndGlyphs">MSC(ITP)-DCs+mDCs+LYM</text>
<line x1="361.3" y1="454.1" x2="364.2" y2="454.1" stroke="#111" stroke-width="1"/>
<line x1="469.2" y1="454.1" x2="479.4" y2="454.1" stroke="#111" stroke-width="1.1"/>
<line x1="479.4" y1="452.4" x2="479.4" y2="455.8" stroke="#111" stroke-width="1.1"/>
<rect x="364.7" y="451.25" width="104.5" height="5.7" fill="url(#checkh)" stroke="#111" stroke-width="1.4"/>
<line x1="449" y1="454.1" x2="469.2" y2="454.1" stroke="#555" stroke-width="1"/>
<line x1="449" y1="452.5" x2="449" y2="455.7" stroke="#555" stroke-width="1"/>
<text x="360.3" y="464.2" font-size="5.5" text-anchor="end" fill="#111" stroke="#111" stroke-width="0.1" font-weight="bold" textLength="78" lengthAdjust="spacingAndGlyphs">MSC(control)-DCs+mDCs+LYM</text>
<line x1="361.3" y1="462.2" x2="364.2" y2="462.2" stroke="#111" stroke-width="1"/>
<line x1="393.2" y1="462.2" x2="424.6" y2="462.2" stroke="#111" stroke-width="1.1"/>
<line x1="424.6" y1="460.5" x2="424.6" y2="463.9" stroke="#111" stroke-width="1.1"/>
<rect x="364.7" y="459.35" width="28.5" height="5.7" fill="url(#checkh)" stroke="#111" stroke-width="1.4"/>
<line x1="387.7" y1="462.2" x2="393.2" y2="462.2" stroke="#555" stroke-width="1"/>
<line x1="387.7" y1="460.6" x2="387.7" y2="463.8" stroke="#555" stroke-width="1"/>
<text x="360.3" y="472.3" font-size="5.5" text-anchor="end" fill="#111" stroke="#111" stroke-width="0.1" font-weight="bold" textLength="77.4" lengthAdjust="spacingAndGlyphs">THD-MSC(ITP)-DCs+PMA+LYM</text>
<line x1="361.3" y1="470.3" x2="364.2" y2="470.3" stroke="#111" stroke-width="1"/>
<line x1="461" y1="470.3" x2="473.2" y2="470.3" stroke="#111" stroke-width="1.1"/>
<line x1="473.2" y1="468.6" x2="473.2" y2="472" stroke="#111" stroke-width="1.1"/>
<rect x="364.7" y="467.45" width="96.3" height="5.7" fill="url(#hatchF)" stroke="#111" stroke-width="1.4"/>
<line x1="438.5" y1="470.3" x2="461" y2="470.3" stroke="#555" stroke-width="1"/>
<line x1="438.5" y1="468.7" x2="438.5" y2="471.9" stroke="#555" stroke-width="1"/>
<text x="360.3" y="480.4" font-size="5.5" text-anchor="end" fill="#111" stroke="#111" stroke-width="0.1" font-weight="bold" textLength="64.7" lengthAdjust="spacingAndGlyphs">MSC(ITP)-DCs+PMA+LYM</text>
<line x1="361.3" y1="478.4" x2="364.2" y2="478.4" stroke="#111" stroke-width="1"/>
<line x1="456" y1="478.4" x2="462.5" y2="478.4" stroke="#111" stroke-width="1.1"/>
<line x1="462.5" y1="476.7" x2="462.5" y2="480.1" stroke="#111" stroke-width="1.1"/>
<rect x="364.7" y="475.55" width="91.3" height="5.7" fill="url(#hatchF)" stroke="#111" stroke-width="1.4"/>
<text x="360.3" y="488.5" font-size="5.5" text-anchor="end" fill="#111" stroke="#111" stroke-width="0.1" font-weight="bold" textLength="74.4" lengthAdjust="spacingAndGlyphs">MSC(control)-DCs+PMA+LYM</text>
<line x1="361.3" y1="486.5" x2="364.2" y2="486.5" stroke="#111" stroke-width="1"/>
<line x1="461" y1="486.5" x2="482.5" y2="486.5" stroke="#111" stroke-width="1.1"/>
<line x1="482.5" y1="484.8" x2="482.5" y2="488.2" stroke="#111" stroke-width="1.1"/>
<rect x="364.7" y="483.65" width="96.3" height="5.7" fill="url(#hatchF)" stroke="#111" stroke-width="1.4"/>
<line x1="443" y1="486.5" x2="461" y2="486.5" stroke="#555" stroke-width="1"/>
<line x1="443" y1="484.9" x2="443" y2="488.1" stroke="#555" stroke-width="1"/>
<text x="360.3" y="496.6" font-size="5.5" text-anchor="end" fill="#111" stroke="#111" stroke-width="0.1" font-weight="bold" textLength="62.5" lengthAdjust="spacingAndGlyphs">THD-MSC(ITP)-DCs+LYM</text>
<line x1="361.3" y1="494.6" x2="364.2" y2="494.6" stroke="#111" stroke-width="1"/>
<line x1="375.4" y1="494.6" x2="384.6" y2="494.6" stroke="#111" stroke-width="1.1"/>
<line x1="384.6" y1="492.9" x2="384.6" y2="496.3" stroke="#111" stroke-width="1.1"/>
<rect x="364.7" y="491.75" width="10.7" height="5.7" fill="#fff" stroke="#111" stroke-width="1.4"/>
<text x="360.3" y="504.7" font-size="5.5" text-anchor="end" fill="#111" stroke="#111" stroke-width="0.1" font-weight="bold" textLength="49.8" lengthAdjust="spacingAndGlyphs">MSC(ITP)-DCs+LYM</text>
<line x1="361.3" y1="502.7" x2="364.2" y2="502.7" stroke="#111" stroke-width="1"/>
<line x1="438.5" y1="502.7" x2="447.7" y2="502.7" stroke="#111" stroke-width="1.1"/>
<line x1="447.7" y1="501" x2="447.7" y2="504.4" stroke="#111" stroke-width="1.1"/>
<rect x="364.7" y="499.85" width="73.8" height="5.7" fill="#fff" stroke="#111" stroke-width="1.4"/>
<line x1="431.4" y1="502.7" x2="438.5" y2="502.7" stroke="#555" stroke-width="1"/>
<line x1="431.4" y1="501.1" x2="431.4" y2="504.3" stroke="#555" stroke-width="1"/>
<text x="360.3" y="512.8" font-size="5.5" text-anchor="end" fill="#111" stroke="#111" stroke-width="0.1" font-weight="bold" textLength="59.5" lengthAdjust="spacingAndGlyphs">MSC(control)-DCs+LYM</text>
<line x1="361.3" y1="510.8" x2="364.2" y2="510.8" stroke="#111" stroke-width="1"/>
<line x1="373.8" y1="510.8" x2="381" y2="510.8" stroke="#111" stroke-width="1.1"/>
<line x1="381" y1="509.1" x2="381" y2="512.5" stroke="#111" stroke-width="1.1"/>
<rect x="364.7" y="507.95" width="9.1" height="5.7" fill="#fff" stroke="#111" stroke-width="1.4"/>
<text x="360.3" y="520.9" font-size="5.5" text-anchor="end" fill="#111" stroke="#111" stroke-width="0.1" font-weight="bold" textLength="29.2" lengthAdjust="spacingAndGlyphs">mDCs+LYM</text>
<line x1="361.3" y1="518.9" x2="364.2" y2="518.9" stroke="#111" stroke-width="1"/>
<line x1="444.6" y1="518.9" x2="453.8" y2="518.9" stroke="#111" stroke-width="1.1"/>
<line x1="453.8" y1="517.2" x2="453.8" y2="520.6" stroke="#111" stroke-width="1.1"/>
<rect x="364.2" y="515.65" width="80.4" height="6.5" fill="#111"/>
<text x="360.3" y="529" font-size="5.5" text-anchor="end" fill="#111" stroke="#111" stroke-width="0.1" font-weight="bold" textLength="25.6" lengthAdjust="spacingAndGlyphs">PMA+LYM</text>
<line x1="361.3" y1="527" x2="364.2" y2="527" stroke="#111" stroke-width="1"/>
<line x1="453.8" y1="527" x2="462.5" y2="527" stroke="#111" stroke-width="1.1"/>
<line x1="462.5" y1="525.3" x2="462.5" y2="528.7" stroke="#111" stroke-width="1.1"/>
<rect x="364.2" y="523.75" width="89.6" height="6.5" fill="#111"/>
<text x="360.3" y="537.1" font-size="5.5" text-anchor="end" fill="#111" stroke="#111" stroke-width="0.1" font-weight="bold" textLength="10.7" lengthAdjust="spacingAndGlyphs">LYM</text>
<line x1="361.3" y1="535.1" x2="364.2" y2="535.1" stroke="#111" stroke-width="1"/>
<rect x="364.2" y="532.2" width="4.6" height="5.8" rx="2" fill="#111"/>
<line x1="364.2" y1="441.5" x2="364.2" y2="539.8" stroke="#111" stroke-width="1.3"/>
<line x1="364.2" y1="539.8" x2="512" y2="539.8" stroke="#111" stroke-width="1.3"/>
<line x1="364.2" y1="539.8" x2="364.2" y2="542.6" stroke="#111" stroke-width="1"/>
<text x="364.2" y="548.6" font-size="5.3" text-anchor="middle" fill="#111" stroke="#111" stroke-width="0.3" font-weight="bold" textLength="8.2" lengthAdjust="spacingAndGlyphs">0.0</text>
<line x1="400.65" y1="539.8" x2="400.65" y2="542.6" stroke="#111" stroke-width="1"/>
<text x="400.65" y="548.6" font-size="5.3" text-anchor="middle" fill="#111" stroke="#111" stroke-width="0.3" font-weight="bold" textLength="8.2" lengthAdjust="spacingAndGlyphs">0.5</text>
<line x1="437.1" y1="539.8" x2="437.1" y2="542.6" stroke="#111" stroke-width="1"/>
<text x="437.1" y="548.6" font-size="5.3" text-anchor="middle" fill="#111" stroke="#111" stroke-width="0.3" font-weight="bold" textLength="8.2" lengthAdjust="spacingAndGlyphs">1.0</text>
<line x1="473.55" y1="539.8" x2="473.55" y2="542.6" stroke="#111" stroke-width="1"/>
<text x="473.55" y="548.6" font-size="5.3" text-anchor="middle" fill="#111" stroke="#111" stroke-width="0.3" font-weight="bold" textLength="8.2" lengthAdjust="spacingAndGlyphs">1.5</text>
<line x1="510" y1="539.8" x2="510" y2="542.6" stroke="#111" stroke-width="1"/>
<text x="510" y="548.6" font-size="5.3" text-anchor="middle" fill="#111" stroke="#111" stroke-width="0.3" font-weight="bold" textLength="8.2" lengthAdjust="spacingAndGlyphs">2.0</text>
<text x="437.3" y="557.8" font-size="5.6" text-anchor="middle" fill="#111" stroke="#111" stroke-width="0.3" font-weight="bold" textLength="36" lengthAdjust="spacingAndGlyphs">Division Index</text>
<line x1="493" y1="445.8" x2="493" y2="518.7" stroke="#555" stroke-width="1"/>
<line x1="0" y1="-100" x2="0" y2="-100" stroke="#555" stroke-width="1.15"/>
<circle cx="497.8" cy="482.7" r="1.6" fill="#111"/>
<circle cx="502.2" cy="482.7" r="1.6" fill="#111"/>
<circle cx="512.3" cy="491" r="1.6" fill="#111"/>
<circle cx="516.7" cy="491" r="1.6" fill="#111"/>
<circle cx="473.2" cy="499" r="1.6" fill="#111"/>
<circle cx="477.6" cy="499" r="1.6" fill="#111"/>
<circle cx="469.2" cy="507.3" r="1.6" fill="#111"/>
<circle cx="473.6" cy="507.3" r="1.6" fill="#111"/>
<line x1="508.6" y1="462" x2="508.6" y2="518.7" stroke="#555" stroke-width="1"/>
<line x1="467.7" y1="494" x2="467.7" y2="502" stroke="#222" stroke-width="1"/>
<line x1="463.7" y1="502" x2="463.7" y2="510.4" stroke="#777" stroke-width="1"/>
</svg>
</body></html>
